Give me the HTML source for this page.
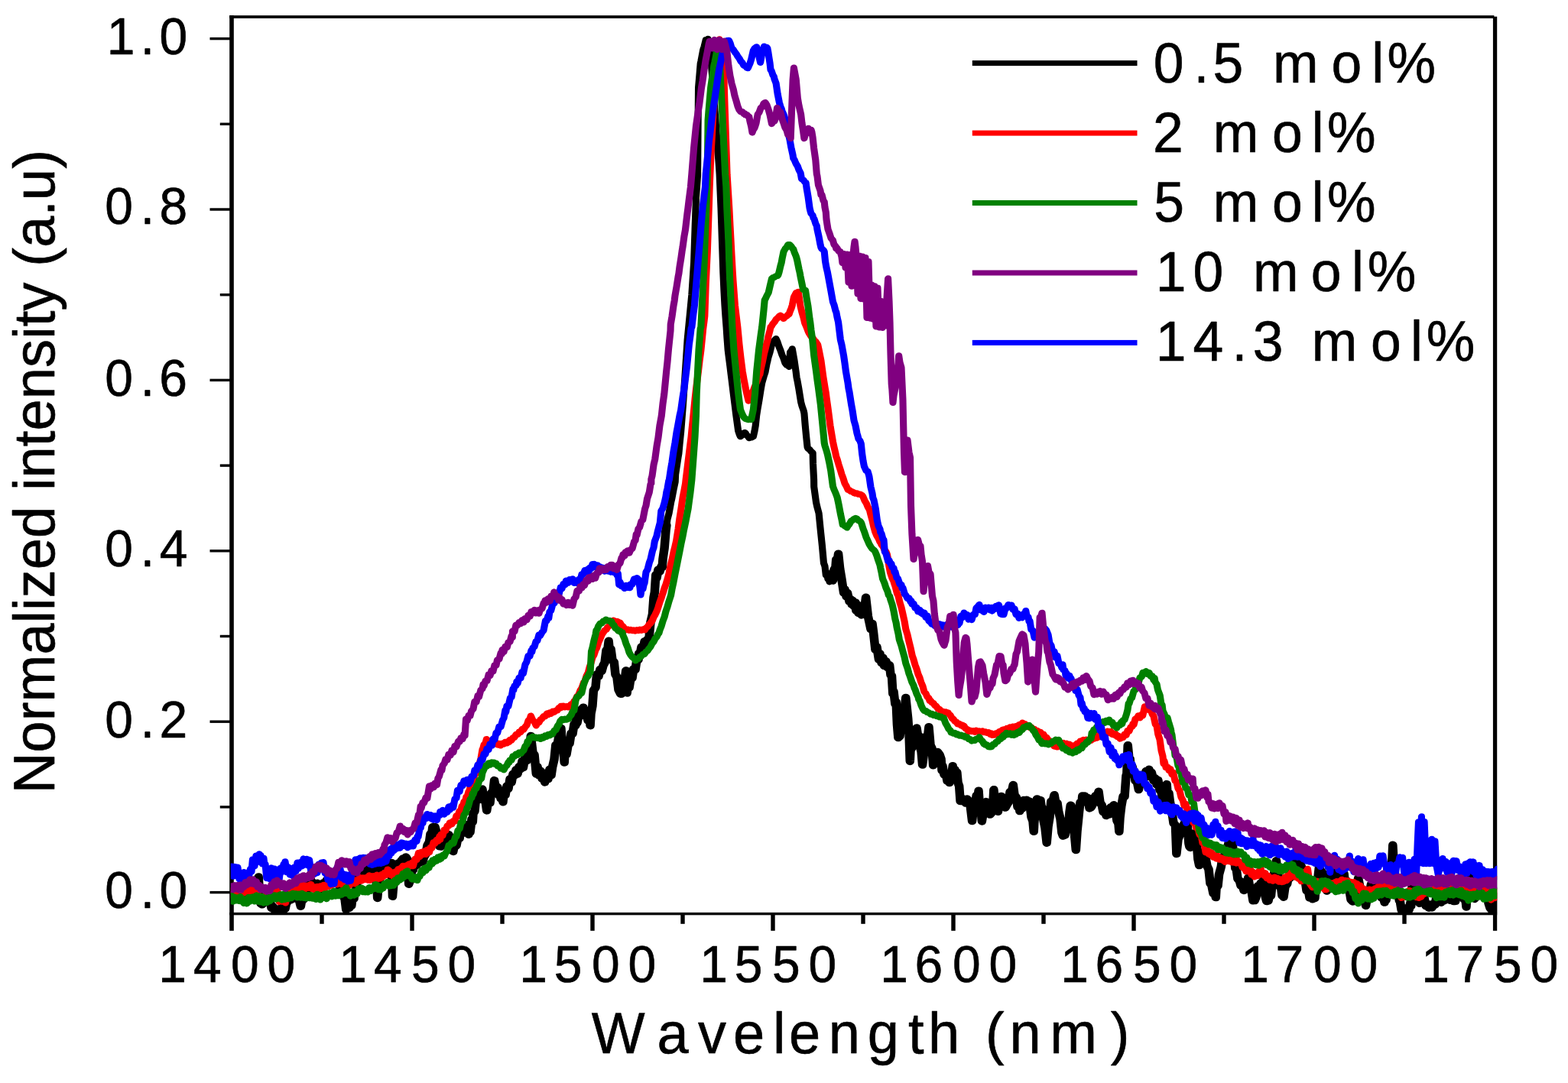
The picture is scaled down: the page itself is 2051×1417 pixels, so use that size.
<!DOCTYPE html>
<html lang="en">
<head>
<meta charset="utf-8">
<title>Normalized intensity vs wavelength</title>
<style>
html,body{margin:0;padding:0;background:#fff;}
body{width:2051px;height:1417px;overflow:hidden;}
svg{display:block;}
text{font-family:"Liberation Sans",Arial,Helvetica,sans-serif;fill:#000;stroke:#000;stroke-width:0.6px;stroke-linejoin:round;white-space:pre;}
.tk{font-size:66px;}
.lg{font-size:71.5px;}
.xt{font-size:74px;}
.yt{font-size:74.3px;}
.c{fill:none;stroke-linejoin:round;stroke-linecap:round;}
</style>
</head>
<body>
<svg width="2051" height="1417" viewBox="0 0 2051 1417">
<rect x="0" y="0" width="2051" height="1417" fill="#fff"/>
<defs><clipPath id="plot"><rect x="301.8" y="24" width="1656.4" height="1173.3"/></clipPath></defs>
<g id="axes">
<rect x="300.2" y="20.2" width="5.6" height="1197.6" fill="#000"/>
<rect x="1952.9" y="21.7" width="5.3" height="1196.1" fill="#000"/>
<rect x="300.2" y="20.2" width="1654.2" height="3.8" fill="#000"/>
<rect x="300.2" y="1193.9" width="1658" height="3.4" fill="#000"/>
<rect x="274.5" y="1165.9" width="26.7" height="3.4" fill="#000"/>
<rect x="287.8" y="1054.2" width="13.4" height="3.4" fill="#000"/>
<rect x="274.5" y="942.5" width="26.7" height="3.4" fill="#000"/>
<rect x="287.8" y="830.8" width="13.4" height="3.4" fill="#000"/>
<rect x="274.5" y="719.1" width="26.7" height="3.4" fill="#000"/>
<rect x="287.8" y="607.4" width="13.4" height="3.4" fill="#000"/>
<rect x="274.5" y="495.7" width="26.7" height="3.4" fill="#000"/>
<rect x="287.8" y="384" width="13.4" height="3.4" fill="#000"/>
<rect x="274.5" y="272.3" width="26.7" height="3.4" fill="#000"/>
<rect x="287.8" y="160.6" width="13.4" height="3.4" fill="#000"/>
<rect x="274.5" y="48.9" width="26.7" height="3.4" fill="#000"/>
<rect x="418.3" y="1196.3" width="5.4" height="12.5" fill="#000"/>
<rect x="536.3" y="1196.3" width="5.4" height="21.5" fill="#000"/>
<rect x="654.3" y="1196.3" width="5.4" height="12.5" fill="#000"/>
<rect x="772.3" y="1196.3" width="5.4" height="21.5" fill="#000"/>
<rect x="890.3" y="1196.3" width="5.4" height="12.5" fill="#000"/>
<rect x="1008.3" y="1196.3" width="5.4" height="21.5" fill="#000"/>
<rect x="1126.3" y="1196.3" width="5.4" height="12.5" fill="#000"/>
<rect x="1244.3" y="1196.3" width="5.4" height="21.5" fill="#000"/>
<rect x="1362.3" y="1196.3" width="5.4" height="12.5" fill="#000"/>
<rect x="1480.3" y="1196.3" width="5.4" height="21.5" fill="#000"/>
<rect x="1598.3" y="1196.3" width="5.4" height="12.5" fill="#000"/>
<rect x="1716.3" y="1196.3" width="5.4" height="21.5" fill="#000"/>
<rect x="1834.3" y="1196.3" width="5.4" height="12.5" fill="#000"/>
</g>
<g id="curves" clip-path="url(#plot)">
<g transform="scale(1.1,1)">
<polyline class="c" stroke="#000000" stroke-width="10.5" points="271.8,1167.4 273.6,1172.2 275.3,1166.3 277.3,1172.5 279.1,1168.3 280.9,1173.8 282.7,1170.1 284.5,1174.6 285.6,1169.8 286.4,1175.4 288.2,1170.5 290,1173.5 291.8,1169.7 293.6,1173.9 295.5,1167.5 297.3,1171.3 298.4,1166.1 299.1,1171.7 300.9,1161.4 302.7,1162.9 304.5,1154.6 306.4,1153.5 307.4,1147.4 308.2,1161.2 310,1182.1 311.8,1183.3 313.6,1177.8 315.5,1179.2 317.7,1171.6 319.1,1180.2 320.9,1178.4 322.7,1187.8 324.1,1185.6 326.4,1190.5 328.2,1189.2 330.6,1190.5 331.8,1189.3 333.6,1190.5 335.5,1187.7 337.3,1190.5 338.3,1187.4 339.1,1189 340.9,1179.7 342.1,1179.6 344.5,1173 346.4,1177 348.2,1169.8 350,1173.9 352.4,1166 353.6,1176.4 355.5,1176.7 357.6,1185.7 359.1,1176 360.9,1177.1 362.7,1165.9 364.5,1166.4 366.4,1157.1 367.8,1157 370,1152 371.8,1158.3 373.6,1155.7 375.6,1160.6 377.3,1155.8 379.4,1164.5 380.9,1158.3 382.7,1160.4 384.6,1155.3 386.4,1157.7 388.2,1152 390,1156.5 391.8,1151.1 393.6,1155.7 394.8,1150.8 397.3,1154.9 399.1,1149.1 401.3,1152.9 402.7,1152.7 404.5,1162.5 406.4,1163.6 407.7,1171.8 410,1175.9 411.6,1190.1 413.6,1183.1 415.5,1187.8 417.3,1180.9 418,1184.8 419.1,1175.1 420.9,1175.8 421.8,1168 422.7,1169.5 424.5,1155 427,1147.7 428.2,1140.3 430,1143.3 431.8,1136 433.4,1137.4 435.5,1135.4 437.3,1141.3 439.1,1137.4 439.8,1143 440.9,1137.8 442.7,1143.3 444.5,1137 446.3,1144.1 448.2,1160.6 448.8,1174.9 450,1160.1 451.8,1149.9 452.7,1137.5 453.6,1144.9 455.5,1138.6 457.3,1142.4 459.1,1136.5 460.9,1142 462.7,1134 464.5,1138.1 465.5,1129 466.8,1172.8 468.2,1154.6 470,1142.3 470.7,1132.7 471.8,1137.4 473.6,1129.5 475.5,1133.4 477.3,1126.1 478.4,1131 479.1,1123.5 480.9,1127.3 482.7,1121.5 484.8,1125.1 486.1,1156.7 488.2,1150.8 490,1137.1 491.2,1138.2 493.6,1128.5 495.5,1132 497.7,1123.2 499.1,1128.7 500.9,1124.3 502.7,1127.3 504.1,1121.6 506.4,1117.2 508.2,1106.2 510.5,1101.6 511.8,1091.1 513.6,1089.5 514.4,1082.3 515.5,1089.5 517.3,1082.1 519.5,1091.1 520.9,1091.2 522.7,1107.3 523.4,1105.5 524.5,1107.6 526.4,1101.9 528.2,1105.3 529.8,1095.4 531.8,1100.6 533.6,1092.1 534.9,1095.3 537.3,1099.7 538.9,1114 540.9,1103.4 542.7,1106.4 544.5,1096.1 546.4,1097.1 548.2,1086.2 550,1090.2 551.8,1078.1 553.1,1082.9 555.5,1079.7 557.3,1091.7 558.2,1086.4 559.1,1088.7 560.9,1071.8 562.1,1075.1 562.7,1064.1 564.5,1061.3 565.9,1045.1 568.2,1046.6 570,1034.1 572.4,1034.1 573.6,1032.6 575.5,1047.1 577.3,1048.6 578.8,1060.4 580.9,1045.6 582.7,1050.4 583.9,1038.2 586.4,1034.8 587.8,1021.1 590,1033.5 591.8,1029.9 592.9,1040.1 593.6,1034.6 595.5,1044.7 597.3,1041.7 598.1,1049.2 599.1,1039 600.9,1040.4 602.7,1028.6 604.5,1032 606.4,1019.3 608.3,1023.6 610,1012.7 611.9,1014.4 613.6,1007.2 615.5,1012.5 617.3,1003 619.1,1006.2 620.9,995.9 622.2,1004.2 624.5,990.4 626.4,995.2 628.2,982.1 629.9,985.9 631.2,962.9 633.6,985 635.5,987.6 637.6,1012.4 639.1,1003.1 640.9,1014.4 642.7,1008.7 644.5,1018.6 646.4,1015 647.9,1023.4 650,1011.3 651.8,1019.2 653.6,1006.7 655.5,1014.4 656.9,1003.7 659.1,993.4 660.8,974.8 662.7,975 664.5,963.3 666.4,963.5 667.2,953 668.2,970 670,979.9 671.1,997.5 671.8,984.5 673.6,987.1 675.5,975 677.3,972.8 679.1,959.5 680.9,960.1 682.7,947.4 684.5,949.2 685.2,940.2 686.4,945.6 688.2,935.7 690,936.6 691.8,927.6 692.9,930.9 693.6,925.7 695.5,936.4 697.3,934.9 699.1,942.6 700.9,940.2 701.9,949.2 702.7,933.9 704.5,923.7 705.8,903.4 708.2,899.3 709.6,882.6 711.8,884.9 713.6,875.9 715.5,878.1 717.3,870.7 719.1,867.1 720.9,851.1 722.7,848.5 723.8,838.8 724.5,847.5 726.4,849 728.2,864.1 730.2,866.1 731.8,882.5 733.6,885.8 735.5,902.6 737.9,907.7 739.1,907.8 740.9,892.4 742.7,891.3 744.3,877.5 745.6,906.4 746.4,897.8 748.2,899.7 750,887.2 751.8,887.3 753.3,875.4 755.5,876.2 757.3,862.3 759.1,863.2 759.7,855 760.9,857.1 762.7,846.6 764.9,847.9 766.4,839.3 768.2,843.9 770,836.5 771.3,840.9 773.6,814.1 775.9,803.7 777.3,781.9 778.5,774.9 779.8,752.2 780.9,756.1 782.7,745.5 784.5,747.7 786.4,741.1 787.5,742.1 788.2,731.4 790.1,716.9 791.8,694 792.6,687.3"/>
<polyline class="c" stroke="#000000" stroke-width="8.3" points="790.1,716.9 791.8,694 792.6,687.3 793.6,679.5 795.5,671.5 797.8,657.5 799.1,651.3 800.9,640.7 802.9,630.4 803.3,620.7 804.5,612 806.4,598.1 807.2,593 808.2,580.8 809.7,564.7 812.3,528.5 813.6,507.2 814.9,486.1 817.4,444.3 819.1,425 820.9,404.9 822.6,385.3 825.1,343.5 826.4,300.3 827.7,258.6 829.6,229.6 830,171.8 830.5,114.6 831.8,98.1 832.9,83.3 833.6,79.8 836.1,65.1 837.3,61.1 839.3,52.1 840.9,52.1 841.9,50.8 842.7,57.2 845.1,72.1 846.4,91.7 847,100.3 848.2,118.2 848.9,128.5 850,145 850.9,156.9 851.8,171.8 852.8,185.2 853.6,198.3 854.7,213.4 855.6,228.1 857.3,272.1 858.6,315.1 859.9,356.8 860.9,380.9 861.8,399.4 862.7,413.8 863.7,427.7 864.5,441.4 865.6,457.8 866.4,465.1 868.2,480.3 868.9,486.8 870,496.4 872.1,515.2 873.6,528.2 875.3,543.3 877.9,563.9 879.1,567.9 880.4,571.2 882.7,569.1 884.5,566.5 885.6,566 886.4,566.5 888.2,569.7 890,571.6 890.7,573.2 891.8,572.3 893.6,572.3 895.8,571.1 897.3,563.8 898.4,556.9 899.7,543.4 900.9,534.9 902.7,523.5 904.5,510.8 906.1,500.9 908.2,492.9 910,486.9 911.8,476.1 912.6,472.8 913.6,467.5 915.5,460.8 917.7,450.8 919.1,449.2 920.9,445.5 922.8,443.2 924.5,447.4 926.4,453.7 928,458 930,464.5 931.8,469 933.6,475 934.4,476.2 935.5,477.6 937.3,478.5 938.3,479.9 939.6,460.8 940.9,459.1 942.1,456.4 944.7,472.7 946.4,485.8 947.3,493.8 948.2,498.4 949.8,508.2 952.4,526 953.6,530.9 955.5,536.9 956.3,540.8 957.5,556.8 958.8,571.6 960.1,585.2 960.9,586.8 962.7,588.1 964.5,590.8 966.5,592.4 966.8,606.9 967.8,627.7 967.9,636.7 970.5,657.4 971.8,663.8 973.7,671.4 975.7,693.7 977.6,713.5 979.5,736.6 980.9,740.9 982.1,752.5 982.7,748.5 984.5,757.6 985.3,756.7 986.4,761.3 988.2,753.8 990.4,759.5"/>
<polyline class="c" stroke="#000000" stroke-width="10.5" points="988.2,753.8 990.4,759.5 991.8,745.5 993.6,742.2 994.3,732.1 995.5,735.5 996.9,724.7 998.8,744.4 1000.7,756.9 1003.3,775.5 1004.5,771.1 1006.4,780.5 1007.7,775.7 1010,786.9 1011.8,784.3 1012.9,790.8 1013.6,785.8 1015.5,793.2 1017.3,788.5 1018,798.7 1019.1,791.1 1020.9,802.1 1022.7,795.4 1024.4,804.4 1026.4,792 1028.2,794.5 1029.6,781.8 1032.1,805.9 1033.4,812.6 1035.5,823.2 1037.3,816.2 1038.6,827 1039.8,838.9 1040.9,849.9 1042.7,846.5 1045,862.8 1046.4,855.5 1048.2,867.3 1050,860.9 1051.4,871 1053.6,865.1 1055.5,873.4 1057.8,870.2 1059.1,883.1 1060.4,884.1 1061.7,907.7 1062.7,904.7 1064.5,921.2 1065.6,918.6 1066.8,948 1068.1,965.1 1070,963.1 1072,945.3 1073.6,940.1 1074.6,924.5 1075.5,928.4 1077.1,912.9 1079.7,939.9 1080.9,959.1 1082.1,995.9 1082.7,981.6 1084.5,978.3 1086.5,959.7 1088.7,955.9 1090,952.5 1091.8,965.4 1092.7,962.8 1093.6,975 1095.5,983.2 1096.9,1000.6 1099.1,981.8 1100.9,979.2 1102,962.8 1102.7,968.1 1104.5,951.2 1106.4,975.2 1108.2,979 1109.7,1001.3 1111.8,988.1 1113.6,992.7 1114.9,983.9 1117.4,987.7 1119.1,993.1 1120,1008 1120.9,1002.3 1122.7,1013.5 1125.1,1014.2 1126.4,1021.8 1128.2,1017.3 1129,1024.1 1130,1013.3 1131.8,1012.6 1132.9,1002.2 1133.6,1009.7 1135.5,1007.1 1137.3,1014.7 1138,1010.6 1139.1,1023.8 1140.6,1028.6 1141.9,1048.1 1142.7,1043.2 1144.5,1048.1 1146.4,1045.8 1148.3,1050.6 1150,1045.4 1152.1,1048.2 1153.6,1052.2 1156,1074.1 1157.3,1060.6 1159.1,1056.5 1161.1,1040.8 1162.7,1043.5 1163.7,1034.7 1164.5,1047.8 1166.4,1058.1 1167.6,1074.4 1170,1058.3 1171.8,1057.4 1172.7,1049.1 1173.6,1058.1 1175.5,1055.2 1177.3,1065.6 1179.1,1063.4 1180.9,1049.7 1181.7,1033.3 1182.7,1042.6 1184.5,1045.7 1186.8,1061.7 1188.2,1052.1 1190,1049 1190.7,1041.9 1191.8,1048.6 1193.6,1047.3 1195.5,1056.5 1197.1,1053.4 1199.1,1049.7 1201,1036.1 1202.7,1038 1204.8,1027.1 1206.4,1040.3 1208.7,1043.5 1210,1055.6 1211.8,1053.3 1212.6,1061.1 1213.6,1055.3 1215.5,1057.8 1217.3,1047 1219,1050.9 1220.9,1046.8 1222.7,1053 1224.1,1048.5 1226.4,1069.1 1228.2,1074.4 1229.3,1087.7 1230,1073.8 1231.8,1062.1 1233.1,1045.5 1235.5,1053.8 1237.3,1047 1238.3,1055.9 1239.1,1056.5 1240.9,1073.4 1242.7,1083 1244.7,1102.7 1246.4,1081.1 1248.2,1069.2 1249.8,1048.9 1251.8,1048.5 1253.7,1040.2 1255.5,1051.3 1257.3,1050.7 1258.8,1062.3 1260.9,1071.2 1262.7,1089.7 1264,1093.6 1266.4,1092.5 1268.2,1081.9 1270.4,1084.1 1271.8,1062.8 1273,1053.8 1273.6,1054 1275.5,1077.7 1277.3,1086.9 1279.4,1112 1280.9,1087.2 1283.3,1061.3 1284.5,1050.3 1286.4,1050.2 1287.1,1041.4 1288.2,1049 1290,1041.5 1292.3,1046.6 1293.6,1043.9 1295.5,1057.4 1297.4,1056.2 1299.1,1053.2 1300,1044.2 1300.9,1049.2 1302.7,1041.2 1304.5,1042.9 1306.4,1035.8 1308.2,1050.3 1310.3,1053.8 1311.8,1062.2 1313.6,1058.7 1315.5,1067.1 1316.7,1065.1 1319.1,1065.5 1320.9,1056.2 1323.1,1055.6 1324.5,1053.3 1325.7,1063.8 1326.4,1060.8 1328.2,1073.7 1330,1077.6 1330.8,1087.9 1331.8,1069.9 1333.4,1055 1335.5,1042 1337.3,1042.2 1339.1,1014.8 1339.8,1015 1341.1,975.3 1342.7,993 1343.7,992.6 1344.5,1001.8 1346.4,1002.8 1348.2,1014.1 1348.8,1009.2 1350,1021.5 1351.8,1021 1354,1033.1 1355.5,1024.6 1357.3,1025.9 1359.1,1016.4 1360.9,1018 1362.7,1009.1 1364.3,1011.1 1366.4,1006.8 1368.2,1016.4 1369.4,1010.9 1371.8,1021.2 1373.6,1018.3 1375.5,1026.5 1377.1,1020.7 1379.1,1033.7 1380.9,1035.7 1382.3,1044.9 1384.5,1033.6 1386.4,1036 1387.4,1026.1 1388.2,1037.4 1390,1038 1391.3,1049.2 1393.8,1064.1 1395.5,1077.1 1397.7,1079.6 1399,1117.1 1400.9,1098.1 1402.8,1092.7 1404.5,1082.2 1406.7,1082 1408.2,1077.4 1410,1084.1 1411.8,1077.9 1413.6,1103.6 1414.4,1107.5 1415.5,1108.9 1417.3,1093.9 1418.3,1096.5 1419.1,1090.6 1420.9,1097.2 1422.1,1091.1 1424.5,1124 1426,1132.1 1428.2,1130 1430.3,1115.3 1431.8,1126 1433.6,1122.1 1435.4,1133.1 1437.3,1137.4 1439.1,1155.9 1440.6,1157.3 1442.7,1168.9 1444.5,1163.9 1445.7,1174.1 1446.4,1161.7 1448.2,1158.9 1449.6,1144.1 1452.1,1133.9 1453.6,1122.1 1455.5,1123.6 1457.3,1112.8 1458.6,1113.9 1460.9,1103.5 1462.7,1108.1 1465,1096.5 1466.4,1113.3 1468.2,1125 1468.9,1135.9 1470,1135.4 1471.8,1149.8 1474,1152.6 1475.5,1158.8 1477.3,1156.9 1479.1,1164.9 1480.9,1153.7 1482.7,1155.6 1484.3,1148.3 1486.4,1162.9 1488.1,1165.2 1490,1178.2 1492,1178.1 1493.6,1173.8 1495.8,1159.3 1497.3,1162 1499.1,1155.6 1500.9,1159.5 1502.3,1151 1504.5,1172.4 1506.1,1179.1 1508.2,1178.5 1510,1169.5 1511.3,1172.3 1513.6,1148.6 1515.1,1143.4 1517.7,1126.3 1519.1,1142.5 1520.9,1149.1 1521.6,1159.9 1522.7,1156.6 1524.5,1171.5 1525.4,1169.5 1526.4,1173.7 1528.2,1159.8 1530.6,1156.5 1531.8,1148.7 1533.6,1149.1 1535.5,1135.1 1537.3,1136.1 1538.3,1127.2 1539.1,1133.1 1540.9,1126.9 1542.7,1133.1 1544.5,1124.5 1546,1129.7 1548.2,1135.6 1550,1148.1 1551.8,1150.5 1553.7,1165.3 1555.5,1162.6 1557.3,1174.6 1558.8,1173.5 1560.9,1176.3 1562.7,1170.7 1563.6,1175 1564.5,1162.1 1566.4,1156.3 1568.8,1132.5 1570,1143.1 1571.8,1140.3 1572.6,1147.6 1573.6,1146.8 1575.5,1160.7 1577.8,1165.5 1579.1,1162.3 1580.9,1142.3 1581.6,1145.6 1582.7,1140.2 1584.5,1145 1586.4,1139.7 1588.2,1145.9 1589.3,1141.4 1590,1147.6 1591.8,1140.8 1593.6,1149.1 1595.5,1142.3 1597.3,1149.4 1598.3,1143.4 1599.1,1152.6 1600.9,1151.8 1602.7,1164.2 1604.5,1164.6 1606.4,1177 1608.6,1179.4 1610,1179.1 1611.8,1165.1 1613.6,1162.4 1615.1,1149 1617.3,1161.3 1619.1,1163 1620.9,1173.3 1622.7,1173.9 1624.1,1184.9 1626.4,1170.4 1628.2,1170.2 1630.5,1156.7 1631.8,1161.9 1633.6,1157 1635.5,1165.2 1636.9,1157.4 1639.1,1168.8 1640.9,1166.9 1642.7,1174.5 1644.5,1171.4 1646.4,1180.6 1647.2,1176.6 1648.2,1177.7 1650,1163.9 1651.8,1160.8 1653.6,1143.3 1655.5,1122.1 1656.2,1105.7 1657.3,1127.6 1658.8,1144.6 1660.9,1162.2 1662.7,1166.6 1663.9,1178.1 1664.5,1177.1 1666.5,1190.5 1668.2,1190.5 1670,1190.5 1671.8,1190 1672.9,1190.5 1673.6,1187.9 1675.5,1190.5 1677.3,1180.6 1678,1185.1 1679.3,1156 1680.9,1166.7 1682.7,1168.5 1684.5,1177.9 1685.7,1176.2 1688.2,1181.8 1690,1174.9 1692.2,1178.3 1693.6,1174.3 1695.5,1185.2 1697.3,1183.6 1699.1,1187.7 1700.9,1183.4 1702.7,1187.4 1705,1182.7 1706.4,1183.8 1708.2,1173.1 1708.9,1178.4 1710,1172.9 1711.8,1180.1 1712.7,1173.1 1713.6,1180.7 1715.5,1173.6 1717.3,1178.4 1719.1,1172.6 1720.9,1176.6 1722.7,1171.8 1724.3,1177.7 1726.4,1170.1 1728.2,1178.9 1730,1171.9 1730.7,1178.9 1731.8,1171.5 1733.6,1171.7 1735.5,1162.6 1737.2,1164.9 1739.1,1165.9 1740.9,1176.4 1742.7,1176.7 1743.6,1186.5 1744.5,1169.9 1746.4,1160.6 1747.4,1145.2 1748.2,1155.1 1750,1157.1 1751.8,1174.5 1752.6,1172.9 1753.6,1175.9 1755.5,1166.2 1757.3,1167.2 1759.1,1154.4 1760.9,1157.3 1762.7,1145.8 1764.2,1149.9 1766.4,1156.4 1768.2,1173.4 1769.3,1172.1 1770,1181.5 1771.9,1187.9 1773.6,1190.5 1775.5,1186.4 1777,1190.5 1779.6,1173 1780.9,1179.8 1782.7,1172.9"/>
<polyline class="c" stroke="#ff0000" stroke-width="8.3" points="271.8,1165.6 273.6,1171.4 275.3,1165.1 277.3,1169.8 279.1,1166.3 280.9,1169.8 282.7,1165.1 284.5,1170.5 285.6,1163.7 286.4,1169.5 288.2,1163.3 290,1168.6 291.8,1163.2 293.6,1166.9 295.5,1162.1 297.3,1167 299.7,1161.1 300.9,1167 302.7,1163.5 304.9,1169.9 306.4,1168 308.2,1176.5 310,1174.7 311.8,1177.5 313.6,1172.7 315.5,1175.8 317.7,1167.1 319.1,1170.7 320.9,1164.7 322.7,1171.5 324.5,1165.6 326.4,1168.9 328.2,1164.2 329.3,1167.5 330,1166.1 331.9,1179.9 333.6,1175.2 335.5,1179.6 337.3,1176.4 339.6,1181.4 340.9,1172.9 342.7,1173.5 344.7,1164.1 346.4,1168.5 348.2,1162.9 350,1165.6 351.8,1160.4 353.6,1166.1 355.5,1158 356.3,1164 357.3,1159 359.1,1163 360.9,1157.8 362.7,1163.3 364.5,1158.7 366.4,1161.9 368.2,1157.8 369.1,1162.2 370,1157 371.8,1163.4 373.6,1160.4 375.6,1165.8 377.3,1159.9 379.1,1164.1 380.9,1159.4 382.7,1162.9 384.5,1158 385.8,1162.8 388.2,1157.2 390,1160.3 391.8,1155.3 393.6,1158.9 394.8,1154.2 397.3,1157 399.1,1152.9 400.9,1157.2 402.7,1153 403.8,1156.4 404.5,1152.8 406.4,1157.3 408.2,1154.2 409,1160.3 410,1154.4 411.8,1159.6 413.6,1154.2 415.5,1158.6 417.3,1152.9 419.1,1156.1 420.5,1151.3 422.7,1156.3 424.5,1151.2 427,1153 428.2,1148.2 430,1152.5 431.8,1148.5 433.6,1151 435.5,1148.2 437.3,1151.5 439.1,1145.4 439.8,1151.8 440.9,1146.1 442.7,1149.3 444.5,1146.1 446.4,1150.6 448.2,1144.6 450,1149.8 451.8,1145.5 452.7,1149.3 453.6,1144.2 455.5,1147.3 457.3,1141.8 459.1,1145.1 460.9,1137.6 461.7,1141.4 462.7,1138.9 464.5,1144.8 466.4,1141.4 468.1,1147.3 470,1140.5 471.8,1143.7 473.6,1137.1 475.5,1139.7 477.3,1135 478.4,1137.4 479.1,1132.9 480.9,1137.1 482.7,1132.5 484.8,1135.8 486.4,1130.3 488.2,1133 490,1128.7 491.2,1133.1 493.6,1123.7 495.5,1125 497.7,1115.9 499.1,1121.1 500.9,1114.8 502.7,1118.4 504.1,1113.7 506.4,1117.8 508.2,1111.6 510.5,1115.3 511.8,1109.1 513.6,1109.4 515.5,1102.1 517,1103.8 519.1,1098.9 520.9,1100.6 522.7,1094.2 523.4,1098.5 524.5,1091.6 526.4,1093.4 528.2,1085.9 529.8,1087.1 531.8,1080.6 533.6,1080.6 534.9,1076.3 537.3,1078.3 538.9,1074.1 540.9,1074.4 542.7,1067.4 544.1,1068.2 546.4,1061.1 548.2,1060.1 549.2,1054.8 550,1055.9 551.8,1049 553.6,1046.9 554.4,1042.7 555.5,1042.6 557.3,1035.5 558.2,1034.7 559.1,1030 560.9,1026.6 562.1,1019.6 562.7,1021.1 564.5,1013.3 566.4,1011.7 567.2,1007.8 568.2,1007 570,999.6 571.8,992.4 573.6,980.9 574.6,978 575.5,974.4 577.3,972.2 578.5,967.1 580.9,970 582.7,969.2 584.5,971.6 586.2,970.7 588.2,972.9 590,971.9 591.8,974.5 593.6,972.8 595.2,975.4 597.3,972.7 599.1,973.5 600.9,970.8 602.7,972.4 604.5,969.7 605.5,970.9 606.4,967.9 608.2,968.6 610,965 611.8,964.8 613.6,961 615.8,960.9 617.3,957.6 619.1,958 620.9,954 622.7,954.5 624.8,950.6 626.4,948.9 628.2,943 630,940.8 631.2,936.6 633.6,942.5 635.5,944.3 637.6,949.3 639.1,946.2 640.9,945.3 642.7,941.4 644.1,940.7 646.4,937.2 648.2,937.3 650.5,933.5 651.8,935 653.6,932.6 655.5,933.6 657.3,930.8 659.1,931.7 660.8,929.9 662.7,929.5 664.5,926.1 666.4,926.3 667.2,923.8 668.2,925.4 670,923.9 671.8,925.3 673.6,924.1 675.5,925.4 676.2,924.1 677.3,924.5 679.1,921.4 681.3,921 682.7,917.5 684.5,915.4 686.4,910.6 687.8,909.9 690,903.4 691.8,900.2 694.2,892.7 695.5,891 697.3,884.6 699.3,880.3 700.9,873.3 702.7,867.8 704.5,860.3 706.4,856.7 708.2,850.5 709.6,847.8 711.8,840.2 713.5,836.1 715.5,830.7 716.8,828.4 719.1,824.8 720.9,823.7 722.7,820.3 724.5,819 726.4,816 728.2,814.6 729.6,811.7 731.8,813.5 733.6,812.9 736.1,814.4 737.3,814.8 739.1,818.2 740.9,819.5 742.7,822.9 743.8,823.1 744.5,824.3 746.4,823.5 748.2,824.7 750,823.9 751.8,825.1 753.6,824.5 755.3,825.6 757.3,824.3 759.1,825 760.9,823.8 762.7,824.7 764.5,823.4 766.9,824.2 768.2,821.5 770,820.2 771.8,817 773.6,815.5 774.6,813.4 775.5,812.5 777.3,807.5 779.1,804.2 781.1,799.4 782.7,794.4 784.5,787.9 786.4,782.4 787.5,778.3 788.2,776.4 790,769.9 791.8,764.6 793.9,756.9 795.5,750.1 797.3,740.1 799.1,732.2 800.9,722.7 802.7,714.8 804.2,707.5 806.4,692.3 808,679.2 810,665.4 811.9,650.8 813.6,641.6 815.1,632.5 815.5,628.2 817.3,612.2 818.7,599.8 820.9,580.1 821.9,571.8 822.7,562.3 824.5,543.5 826.4,522.3 827.1,515.1 828.2,504.9 830.3,486.9 831.8,472.8 833.5,458.6 836.1,429.9 837.3,420.1 838,413.5 839.3,371.7 841.2,328.6 842.5,286.9 843.8,243.9 844.4,228.2 845.5,199.3 846.4,183.5 847,171.1 848.3,143.3 850.2,114.5 852.1,86.8 854.1,65.1 855.4,51.4 857.3,65.1 859.2,86.9 860.8,100.5 862,143.4 863.3,185.1 864.6,228.3 865.5,243.9 866.4,260 867.1,272.3 868.2,296 869.1,314.5 870,333.4 871.2,357 871.8,367.3 874,399.4 875.5,413.3 877.1,427.7 879.1,450.8 879.8,457.9 880.9,468.4 883,486.3 884.5,495.9 886.8,509 888.2,515.9 890.1,524.5 891.8,521.1 893.3,517.4 895.5,511.9 897.3,506.3 898.4,503.7 899.1,501.4 900.9,497 902.7,491.4 903.6,489.7 904.5,483.9 906.4,474.9 908.7,462.2 910,457 911.8,448.6 912.6,445.9 913.6,440.2 915.5,432.6 916.4,427.8 917.3,426.9 919.1,423.6 920.9,421.4 922.8,417.9 924.5,416.4 926.4,413.9 928,412.7 930,414.3 931.8,416.9 933.6,414.7 935.5,413.7 937.3,411.5 938.3,411.2 939.1,408.3 940.9,403.5 942.1,399.3 944,388.7 946.6,383.2 948.2,382.9 949.3,381.8 950,387.5 951.9,400.9 953.6,408.7 955.5,415.6 957,422.7 959.1,427.9 960.9,433.3 962.2,436.2 964.5,440.2 966.4,442.1 968.2,445.2 970,447 972.4,450.9 973.6,456.9 975.5,467.5 976.3,471.7 977.3,480.1 978.9,492.9 980.9,506.7 982.1,514.2 982.7,519.8 984.7,535.3 986.4,549.8 987.2,556.6 988.2,563.4 990.4,577.7 991.8,585 993.6,593.4 994.3,597.3 995.5,600.9 997.3,607.8 999.4,615 1000.9,620.6 1002.7,625.8 1004.6,632.6 1006.4,636 1008.4,641 1010,641.2 1011.8,643 1013.6,643.3 1015.5,645.1 1016.2,644.8 1017.3,645.7 1019.1,645.5 1020.9,646.7 1022.7,646.7 1025.1,648.1 1026.4,650.1 1028.2,655 1030.3,658.8 1031.8,662.9 1034.1,667.5 1035.5,673.8 1037.3,681.1 1039.1,689.8 1040.6,695.7 1042.7,701.2 1044.5,704.3 1046.4,709.1 1047,709.5 1048.2,712.8 1050,715.1 1051.8,719.4 1053.6,721.7 1054.7,724.6 1055.5,728.5 1057.3,741.3 1058.6,749.1 1060.9,756.6 1062.7,760.6 1063.7,764.5 1064.5,766.8 1066.9,777 1068.1,779.4 1070,788.3 1071.8,794.7 1073.3,801.8 1075.5,812.7 1077.1,823.1 1079.1,830.5 1081,839.8 1082.7,847.3 1084.8,858.1 1086.4,862.9 1088.2,870 1090,875.4 1091.8,882.1 1093.6,886.6 1095.1,892.1 1097.3,898 1099,905 1100.9,907.4 1102.7,911.8 1104.5,913.4 1105.4,916.6 1106.4,916.4 1108.2,919.3 1110,920.1 1111.8,923.3 1113.1,923.6 1115.5,927.5 1117.3,928 1119.5,932.1 1120.9,930.8 1122.7,932.4 1124.5,931.4 1126.4,933.1 1127.3,932.3 1128.2,934.3 1130,935.7 1132.4,940.3 1133.6,940.7 1135.5,943.8 1137.3,944.5 1138.8,947.4 1140.9,947 1142.7,949.3 1144.5,948.7 1145.3,950.7 1146.4,949.9 1148.2,953.5 1150,954 1151.7,957.3 1153.6,955.8 1155.5,957.1 1157.3,956.2 1159.1,957.7 1160.9,955.9 1163.2,957.6 1164.5,956.4 1166.4,957.6 1168.2,956.4 1170,958.1 1171.8,957.4 1173.5,958.8 1175.5,958.1 1177.3,960.6 1179.1,959.5 1180,961.9 1180.9,960.1 1182.7,961.4 1184.5,959.4 1186.4,960 1188.2,957.3 1190,958.2 1191.8,955.1 1192.8,956 1193.6,954.4 1195.5,954.7 1197.3,952.9 1199.2,953 1200.9,951.5 1202.7,953 1204.5,950.6 1206.4,952.1 1208.2,950.2 1210,950.8 1211.8,948.2 1213.6,949 1215.9,945.7 1217.3,948.4 1219.1,947.3 1220.9,949.9 1222.4,949.2 1224.5,951.8 1226.4,951.5 1228.2,953.8 1230,953.9 1231.4,956 1233.6,956 1235.5,958.4 1237.3,957.9 1239.1,960.7 1240.9,960.7 1242.7,964.4 1244.5,964.8 1246.8,968.8 1248.2,969 1250,972.7 1251.8,972.5 1253.6,976.5 1255.8,977 1257.3,977.4 1259.1,974.7 1260.9,974.8 1262.7,972.3 1263.6,973.2 1264.5,972 1266.4,973.8 1268.2,972.8 1270,975.2 1271.8,973.9 1273.6,976.1 1275.5,975.7 1276.5,977.7 1277.3,975.1 1279.1,975.8 1280.9,972.6 1282.7,972.9 1284.5,969.7 1286.8,970.4 1288.2,967.9 1290,969.6 1291.8,967.9 1293.6,969.4 1295.8,967.3 1297.3,968.8 1299.1,965.9 1300.9,966.6 1302.7,964.4 1304.5,965.3 1306.1,962.2 1308.2,964.2 1310,960.3 1311.8,961.7 1313.6,959 1315.5,960.3 1317.3,956.8 1318.9,957.6 1320.9,956.9 1322.7,961 1324.5,959.6 1325.3,961.7 1326.4,959.9 1328.2,963.8 1330,962.7 1331.8,966.6 1333,965.5 1335.5,965 1337.3,960.6 1339.1,962 1340.8,956.2 1342.7,956.7 1344.5,951.4 1346.4,950.6 1347.2,947 1348.2,948.3 1350,940.7 1352.3,939.2 1353.6,936.4 1355.5,939.3 1357.3,935.1 1358.8,936.5 1361.3,924.3 1362.7,928.3 1364.5,925.2 1366.5,929.1 1368.2,928.5 1370.3,934.7 1371.8,936.9 1373.9,947.6 1375.5,949.6 1377.1,960.8 1379.1,967.5 1381,982.3 1382.7,989.4 1383.6,999.2 1384.5,995.6 1386.4,1004 1388.7,1003.9 1390,1008 1391.8,1006.2 1393.6,1013.1 1395.1,1010.6 1397.3,1021.7 1399,1022.9 1400.9,1031.6 1402.8,1034.9 1404.5,1042.9 1406.7,1047.4 1408.2,1054.3 1410,1051.9 1411.8,1060.2 1413.6,1058.6 1415.5,1067.7 1417.3,1067.5 1419.1,1076.8 1420.9,1076 1422.1,1082.7 1424.5,1083.7 1426.4,1092.2 1428.5,1093.4 1430,1103 1431.8,1103.6 1433.7,1115.4 1435.5,1112.2 1437.3,1117.5 1439.1,1114.5 1440.1,1119.4 1440.9,1115.5 1442.7,1121.5 1444.5,1118.6 1446.4,1123.5 1447.8,1119.6 1450,1124.7 1451.8,1122.2 1453.6,1125.6 1455.5,1123.3 1456.8,1127.8 1459.1,1122.1 1460.9,1127 1462.7,1123.8 1464.5,1128.3 1466.4,1124.6 1467.1,1128.7 1468.2,1125.4 1470,1129.5 1471.8,1125.8 1473.5,1129.4 1475.5,1128.2 1477.3,1134.8 1479.1,1130 1480,1137.3 1480.9,1132.5 1481.7,1140.3 1482.7,1136.1 1484.5,1140.4 1486.8,1136.6 1488.2,1144.5 1490,1140.7 1491.8,1147.3 1493.3,1144.1 1495.5,1146.2 1497.3,1139.2 1498.4,1140.6 1499.1,1135.9 1500.9,1144.3 1502.7,1142 1503.6,1145.9 1504.5,1142.2 1506.4,1149.1 1508.2,1146 1510,1151.7 1511.8,1148.3 1513.6,1152.6 1515.5,1147.7 1517.7,1151.9 1519.1,1148.9 1520.9,1153.7 1522.7,1150.3 1524.5,1154.1 1525.4,1150.4 1526.4,1153.6 1528.2,1147.3 1530,1152.2 1531.8,1144.1 1533.6,1149.1 1535.7,1141.2 1537.3,1146.5 1539.1,1142.8 1540.9,1148 1542.1,1143.6 1544.5,1150.1 1546.4,1145.6 1547.3,1153.2 1548.2,1144.9 1550,1148.1 1551.8,1140.5 1553.6,1145.8 1555,1136.8 1557.3,1155.7 1558.8,1158.3 1560.9,1161.2 1562.7,1152.4 1564,1157.2 1566.4,1152.8 1568.2,1159.2 1570,1154.7 1571.8,1161.7 1573.6,1155.9 1575.5,1164.2 1576.5,1159.1 1577.3,1164.2 1579.1,1158 1580.9,1161.8 1582.7,1155.5 1584.5,1160.7 1586.4,1154.9 1588.2,1157.5 1589.3,1153.2 1590,1158.2 1591.8,1153.2 1593.6,1157.7 1595.5,1150.8 1597.3,1156.9 1599.6,1152 1600.9,1157.3 1602.7,1152.3 1604.5,1157.8 1606.4,1153.8 1608.2,1159.3 1610,1154.2 1611.2,1160.8 1613.6,1156.2 1615.5,1163.8 1617.6,1158.6 1619.1,1167.1 1620.9,1162.4 1622.7,1168.6 1624.5,1163.8 1626.4,1170.3 1628.2,1163.6 1630.5,1170.2 1631.8,1163.9 1633.6,1168.9 1635.5,1162.1 1637.3,1166.6 1639.1,1159.6 1640.8,1164.2 1642.7,1157.6 1644.5,1162.1 1646.4,1157.3 1648.2,1163.6 1650,1156.3 1651.8,1162.7 1653.6,1156.8 1655.5,1162.5 1657.3,1159.7 1659.1,1166.5 1661.3,1162.3 1662.7,1170.2 1664.5,1167.7 1666.4,1174.8 1667.8,1171.5 1670,1174.1 1671.8,1168.3 1673.6,1172.8 1675.5,1165.1 1676.8,1168.2 1679.1,1166 1680.9,1172.6 1682.7,1168 1684.5,1174.2 1686.4,1169.1 1687,1174.9 1688.2,1168.8 1690,1173.5 1692.2,1166.5 1693.6,1169.6 1695.5,1162.3 1697.3,1167 1699.1,1161 1700.9,1165.1 1702.5,1157.9 1704.5,1165.4 1706.4,1158.4 1708.2,1165.3 1710,1159.5 1711.8,1164.4 1712.7,1159.8 1713.6,1165.4 1715.5,1159.3 1717.3,1165.3 1719.1,1161 1720.9,1165.3 1723,1159.1 1724.5,1165.4 1726.4,1159.1 1728.2,1163.8 1730,1159.9 1731.8,1163.9 1733.6,1158.7 1734.6,1163.2 1735.5,1157.7 1737.3,1164.6 1739.1,1161.4 1740.9,1165.6 1742.7,1161.3 1744.5,1167.8 1746.4,1161.6 1747.4,1167.3 1748.2,1160.9 1750,1167 1751.8,1158.7 1753.6,1163 1755.5,1155.8 1756.4,1159 1757.3,1156.3 1759.1,1163.2 1760.9,1156.5 1762.7,1164.4 1764.2,1159.7 1766.4,1168.7 1768.2,1165.2 1770,1172.8 1771.8,1170.1 1773.2,1177.5 1775.5,1170.4 1777.3,1175.1 1779.6,1166.1 1780.9,1173 1782.7,1167.9"/>
<polyline class="c" stroke="#008000" stroke-width="8.3" points="271.8,1173 273.6,1178.9 275.3,1171.8 277.3,1179.6 279.1,1173.7 280.9,1178.3 282.7,1174.4 284.5,1178.8 285.6,1173.1 286.4,1179.2 288.2,1175.4 290,1181.8 292,1178.6 293.6,1182.3 295.5,1174 297.3,1179.6 298.4,1173.8 299.1,1177.7 300.9,1173.4 302.7,1179.3 304.9,1171.5 306.4,1179.6 308.2,1172.4 310,1180.4 311.8,1173.1 313.6,1181.5 315.1,1175.9 317.3,1181 319.1,1173.4 320.9,1179.1 322.7,1171.5 324.1,1176.6 326.4,1171.4 328.2,1176.6 330,1171.6 331.8,1175.7 333.6,1170.2 335.5,1177.6 337,1169.7 339.1,1176.8 340.9,1170.1 342.7,1176.2 344.5,1170.4 346.4,1175.2 348.2,1168.8 349.9,1173 351.8,1169.3 353.6,1174.4 355.5,1169.6 357.3,1174.6 359.1,1169 360.9,1174.8 362.7,1170.7 364.5,1175.4 366.4,1170.8 368.2,1175.1 370,1171.2 371.8,1175.7 373.6,1171.9 375.5,1176.8 377.3,1169.9 378.1,1176.4 379.1,1170.5 380.9,1177.4 382.7,1171.8 384.5,1174.8 386.4,1169.3 388.4,1176.1 390,1168.7 391.8,1172.8 393.6,1167.7 394.8,1173.3 397.3,1165.7 399.1,1172.5 400.9,1166.9 402.7,1172.2 405.1,1165.9 406.4,1170.7 408.2,1164.5 410,1168.9 411.6,1161.1 413.6,1169.5 415.5,1166.4 416.7,1172.6 419.1,1166.3 420.9,1171.6 423.1,1166 424.5,1169.9 426.4,1162.5 428.3,1164.7 430,1161.6 431.8,1167.2 433.6,1163.4 434.7,1167.3 435.5,1163.6 437.3,1167.4 439.1,1161.1 440.9,1165.8 442.4,1161.2 444.5,1163.2 446.4,1157.2 447.5,1159.9 448.2,1157.6 450,1164.1 451.8,1160.3 452.7,1164.6 453.6,1159.6 455.5,1162.3 457.3,1156.1 459.1,1158 460.9,1153.8 462.7,1159.6 464.5,1155.4 465.5,1159 466.4,1153.9 468.2,1158.6 470,1151.2 471.8,1154.7 473.3,1148.4 475.5,1151.5 477.3,1146.6 478.4,1149.5 479.1,1142.9 480.9,1147.3 482.7,1140.4 483.5,1144.3 484.5,1139.3 486.4,1146.4 488.2,1143.9 490,1150.5 491.8,1147.1 493.6,1151.2 495.5,1148 496.4,1151.9 497.3,1146.8 499.1,1146.8 501.5,1138.5 502.7,1142.4 504.5,1136 506.4,1139.1 508,1134.2 510,1135.7 511.8,1128.9 513.6,1130.8 514.4,1125.4 515.5,1128.5 517.3,1123.8 519.1,1126.5 520.9,1121.3 522.7,1124.6 523.4,1120.3 524.5,1123.5 526.4,1118.7 528.2,1120.6 529.8,1116.3 531.8,1113.6 533.6,1106.2 534.9,1106.4 537,1102.8 539.1,1103.7 541.5,1095.2 542.7,1094.6 544.5,1086.7 546.6,1084.2 548.2,1076.4 550,1075 551.8,1066.2 553.6,1063.8 555.5,1057 556.9,1054.8 559.1,1045.8 560.9,1043.7 562.1,1038.2 562.7,1039.3 564.5,1033 566.4,1031.8 567.2,1027.3 568.2,1027.7 570,1020.7 572.4,1018.7 573.6,1011.1 575.9,1005.5 577.3,1001.8 579.1,1002.4 581.1,998.5 582.7,1000.6 584.5,997.5 586.4,999.1 587.5,997.6 588.2,999.8 590,998.8 591.8,1002.4 593.6,1002 595.5,1005.5 597.3,1004.6 599.1,1007.3 600.9,1003.4 602.7,1001.6 604.5,997.2 605.5,997.4 606.4,994.6 608.2,994.6 610,989.5 611.9,989.6 613.6,986.7 615.5,987.7 617.3,984.6 619.1,986.1 620.9,983.4 622.7,981.7 624.5,976.4 626.4,974.1 627.3,970.1 628.2,970.7 630,965.9 631.2,965.4 633.6,963.8 635.5,965.3 637.3,964.6 639.1,965.9 640.9,964.8 642.8,966.9 644.5,964.4 646.4,965.4 648.2,962.5 650,963.6 651.8,961 653.6,962.4 655.5,959.9 656.9,960.7 659.1,956 660.9,955 663.3,949.4 664.5,948.1 666.4,942.9 667.2,942.4 668.2,941 670,942 671.8,940.6 673.6,941.6 675.5,939.9 676.2,940.7 677.3,937.6 679.1,935.8 680.9,931 682.6,929.7 684.5,916.6 685.2,914.3 686.4,911.6 688.2,911 690,907.4 691.6,907 693.6,897.3 695.5,891.2 697.3,886.8 699.1,884.9 700.9,880.4 701.9,879.9 703.2,852.3 704.5,847.3 706.4,837.6 708.2,830.1 709.1,824.5 710,823.8 711.8,818.6 712.9,817.3 713.6,815.8 715.5,815.4 717.3,812.7 719.1,812.6 720.6,810.6 722.7,812.2 724.5,812 726.4,814 727.1,813 728.2,816.2 730,818 731.8,821.9 733.5,823 735.5,825.7 737.3,825.5 739.1,828 739.9,827.3 740.9,831.5 742.7,835.9 744.3,841.7 746.4,847.2 748.2,853.6 749.5,856.3 751.8,859.7 753.6,860.9 755.9,864.4 757.3,862.3 759.1,861.9 760.9,859.2 762.7,858.7 764.5,856.2 766.2,855.9 768.2,852.8 770,851.6 771.3,849.2 773.6,846.1 775.5,841.9 777.3,839.6 779.1,835.5 780.9,833.3 782.7,829.1 783.6,828.3 784.5,824.7 786.4,819.3 788.2,812.6 790.1,807.2 791.8,799.8 793.6,794.1 795.5,786.6 797.8,778.8 799.1,770.8 800.9,761.6 802.9,750 804.5,741.4 806.4,731 808,722.2 810,710.9 811.8,701.6 813.2,693.4 815.5,681.6 817.3,671 818.3,665.5 819.1,658.7 820.9,644.3 822.6,627.8 824.5,599.8 826.4,571.2 827.7,543.4 828.4,514.6 829.6,486.7 830.9,458.1 831.8,445.6 832.9,429.8 833.5,428.2 834.8,399.4 836.1,371.8 837.4,342.8 838.3,315.2 839.3,286.2 840.3,258.6 841.2,227.6 841.9,157.4 842.7,145.7 845.1,115.1 846.4,105.1 848.2,92.3 848.9,86.2 850,81.1 852.1,69.3 854.1,55 856,86.3 857.3,115 858.6,142.9 859.9,171.7 861.1,199.4 862.4,228.3 863.5,243.9 864.4,272.7 866.3,314.7 867.6,357.6 869.5,399.5 870.8,428.3 871.8,443.9 872.7,458.5 873.6,468.1 875.3,486.8 877.9,514.6 879.1,525.2 880.4,535.8 882.7,542.1 884.3,545.6 886.4,547.8 888.1,548.5 890,549.1 891.8,548.6 893.3,549 895.8,535.8 897.8,515 899.7,486.2 900.9,473.5 902.3,458.1 904.8,437.4 906.1,427.6 908.2,405.6 909.3,392.4 910,391.3 911.8,387 913.8,383 915.5,374.8 917.7,364.5 919.1,363.2 920.9,362.7 922.7,361.3 924.5,360.9 925.4,359.7 926.4,356.1 928.2,347.6 929.3,343.4 930,338.8 931.8,329.4 933.6,325.7 935.5,323.3 937,320.2 938.9,320.1 940.9,322.3 942.7,325.5 943.4,325.8 944.5,329.7 946.4,334.7 947.3,337.8 948.2,341.9 950,351.8 951.1,357 951.8,361.4 953.6,370.9 955,378.8 957.7,379.7 959.1,389.7 960.9,400.9 962.7,416.7 963.5,422.1 964.5,431.8 966,443.3 967.9,465.2 970.5,485.7 971.8,497 973.1,507 975.7,528.7 977.6,549.5 979.5,571.1 980.2,579.7 980.9,583.1 982.7,589.3 984,594.4 986.4,606.7 987.9,615.6 990.4,636.2 991.8,640.5 993.6,645 995.6,650.9 997.3,659.7 999.4,672.1 1000.9,679.7 1002,686.4 1002.7,686.3 1004.5,688.4 1006.4,689.4 1007.2,690.4 1008.2,688.2 1010,685.9 1012.3,681.4 1013.6,681 1015.5,678.9 1017.4,678 1019.1,678.8 1020.9,681.1 1022.7,682 1023.9,683.7 1024.5,685.1 1026.4,691.8 1027.7,695.4 1030,703 1031.6,706.9 1033.6,712 1035.4,715.3 1037.3,718.2 1039.1,719.5 1040.6,721.6 1042.7,727.3 1044.4,733.3 1046.4,739.6 1047,743 1048.2,748.9 1049.6,757.3 1051.8,763 1053.4,768.6 1055.5,773.9 1056.6,778.6 1057.8,779.7 1059.1,785.1 1060.9,790.7 1061.7,794.4 1062.7,799.3 1064.5,810.2 1065.6,814.8 1066.4,820.5 1068.2,829.2 1069.4,837 1071.8,844.8 1073.3,851.1 1075.5,859.8 1077.1,868 1079.1,874.1 1080.9,881.5 1082.3,885.5 1084.5,892.7 1086.4,896.8 1087.4,900.5 1088.2,902 1090,907.9 1091.8,911.7 1092.5,915.1 1093.6,916.7 1095.5,923.1 1097.7,928.1 1099.1,930 1100.9,929.8 1102.7,932 1104.5,932.4 1106.7,934.6 1108.2,934 1110,935.9 1111.8,935 1113.6,937 1115.7,936.6 1117.3,938.4 1119.1,937.8 1120.9,939.7 1122.1,939.1 1124.5,946.5 1126,949.1 1128.2,953.9 1130,955.5 1131.1,958.6 1131.8,957.8 1133.6,959.6 1135.5,959 1137.3,961.3 1138.8,960.5 1140.9,962.5 1142.7,961.6 1144.5,963.3 1146.4,962.8 1147.8,964.5 1150,964.3 1151.8,967.1 1153.6,967.1 1155.5,969.5 1156.8,968.7 1159.1,968.9 1160.9,966.7 1162.7,966.9 1164.5,964.4 1166.4,968.2 1168.2,969.6 1170,973.4 1171,973 1171.8,974.7 1173.6,974.5 1175.5,977.1 1177.4,977.3 1179.1,977.1 1180.9,973.8 1182.7,973.9 1184.5,970.7 1186.4,970.2 1188.2,966.9 1190,967 1191.8,963.8 1192.8,964.5 1193.6,962 1195.5,962 1196.7,958.9 1199.1,960.9 1200.9,959.6 1202.7,961.5 1204.5,959.9 1205.7,962 1206.4,959.7 1208.2,960.7 1210,958 1212.1,958.7 1213.6,955.7 1215.5,954.9 1217.3,951.6 1218.5,952 1220.9,949.8 1222.7,950.9 1223.7,949 1224.5,951.2 1226.4,952.1 1228.8,956.2 1230,957 1231.8,961.6 1233.9,964.6 1235.5,968.4 1237.3,969.1 1239.1,973.2 1240.9,971.9 1242.7,973.4 1244.5,972.4 1246.8,974.3 1248.2,972.4 1250,972.8 1251.8,970 1253.6,970.4 1255.5,967.8 1257.1,968.5 1258.8,967.9 1260.9,973.1 1262.7,975 1264,979.4 1266.4,979 1268.2,982 1270,981.4 1271.8,984.3 1274.3,984.3 1275.5,985.3 1277.3,983.2 1279.1,983.9 1280.9,980.7 1282.7,981.8 1284.5,979.1 1286.4,979.1 1288.2,974.8 1290,974.5 1292.3,970.7 1293.6,971.3 1295.5,967.2 1297.4,966.4 1298.3,958.7 1299.1,959.9 1300.9,954.4 1302.2,955.4 1304.5,950.6 1306.4,951 1308.2,947.4 1310,948.1 1311.8,944 1313.8,945.8 1315.5,942.8 1317.3,944.6 1318.9,941.7 1320.9,945.6 1322.7,945 1324.1,949.5 1326.4,948.9 1327.9,952.5 1330,948.5 1331.8,948.9 1333.6,944.4 1334.3,947.3 1335.5,942.4 1337.3,941.8 1339.5,934.6 1340.9,928.7 1342,920.2 1342.7,920.7 1344.5,914.1 1345.9,913.2 1348.2,904.3 1349.8,902.7 1351.8,895.5 1353.6,894.1 1355.5,886.5 1357.5,885.6 1359.1,879.8 1361.3,880.5 1362.7,878.2 1364.5,882.2 1366.5,880.2 1368.2,884.9 1370,884.3 1371.8,889.8 1372.9,887.1 1373.6,892.1 1375.5,895.2 1376.8,902.6 1379.3,909.9 1380.9,921.8 1381.9,922.2 1382.7,930 1384.5,933.9 1386.4,940.2 1388.2,938.9 1389.6,944.5 1392.2,954 1392.8,958.2 1393.6,961.4 1395.5,978.4 1396.4,979.6 1397.3,988.6 1399.1,990.8 1400.9,1002.2 1401.5,1001.2 1402.7,1009.1 1404.5,1011.6 1406.7,1023.9 1408.2,1023.2 1410,1031.4 1411.8,1031.8 1413.6,1040.2 1415.7,1040.3 1417.3,1049.3 1419.5,1051.1 1420.9,1062.5 1422.7,1069.1 1423.4,1076.1 1424.5,1075.5 1426.4,1088.1 1428.5,1090.8 1430,1096.7 1431.8,1095.9 1433.6,1103.6 1435,1100.9 1437.3,1105.2 1439.1,1102.6 1441.4,1106.8 1442.7,1104.6 1444.5,1108.6 1446.4,1105.2 1448.2,1111.9 1450.4,1107.9 1451.8,1112.3 1453.6,1109 1455.5,1113.7 1457.3,1112.1 1458.1,1116.4 1459.1,1112 1460.9,1116.8 1462.7,1113.2 1464.5,1117.2 1466.4,1114.7 1467.1,1118.4 1468.2,1115 1470,1118.1 1471.8,1113.6 1473.6,1118 1475.5,1114.5 1477.4,1118.4 1479.1,1117.8 1480.9,1125.6 1482.5,1121.7 1484.5,1130.1 1486.4,1125.7 1488.2,1131.5 1489,1127.2 1490,1130.9 1491.8,1127.2 1493.6,1132.2 1495.5,1127.2 1496.7,1132.6 1499.1,1126.7 1500.9,1130.8 1502.7,1125 1504.5,1130.9 1505.7,1126.1 1506.4,1132.2 1508.2,1127.8 1510,1134.7 1512.1,1131.2 1513.6,1137.6 1515.5,1131.6 1517.3,1137.8 1519.1,1133.7 1521.1,1139.8 1522.7,1133.3 1524.5,1139.9 1526.7,1133.8 1528.2,1138.4 1530,1131.3 1531.8,1133.9 1533.1,1128.2 1535.5,1134.6 1537.3,1131.1 1538.3,1138.7 1539.1,1135.1 1540.9,1140.3 1542.7,1137.5 1544.5,1145.2 1546,1139.4 1548.2,1148.8 1550,1145.3 1552.4,1152.6 1553.6,1146.6 1555.5,1153.5 1557.3,1148.5 1559.1,1153.7 1561.4,1150.2 1562.7,1158.2 1564.5,1155.2 1566.5,1166.7 1568.2,1157.3 1570,1160.7 1571.8,1152.3 1574.3,1156.7 1575.5,1152.1 1577.3,1157.4 1579.1,1153.2 1580.7,1159.4 1582.7,1157 1584.5,1164.2 1586.4,1160.4 1588.4,1167.1 1590,1162.4 1591.8,1166.3 1593.6,1159.3 1595.5,1164.4 1596.1,1161.1 1597.3,1165.6 1599.1,1156.3 1600.9,1161.4 1602.5,1154.9 1604.5,1162.2 1606.4,1159.1 1608.6,1168.6 1610,1166 1611.8,1176 1613.6,1174.9 1615.1,1182.3 1617.3,1173 1619.1,1178.4 1621.5,1168.5 1622.7,1175.5 1624.5,1168.9 1626.4,1176.5 1628.2,1172.6 1630.5,1177.3 1631.8,1171.3 1633.6,1175.6 1635.5,1169 1637.3,1172.1 1638.2,1165.8 1639.1,1171.8 1640.9,1165.7 1642.7,1171.4 1644.5,1165.1 1645.9,1169.1 1648.2,1164.9 1650,1170.9 1651.8,1167.5 1653.6,1171.8 1655.5,1167.6 1657.3,1172.5 1659.1,1165.8 1661.3,1171.1 1662.7,1164.1 1664.5,1171.8 1666.4,1165.2 1668.2,1170.5 1669,1166.7 1670,1172.2 1671.8,1166.6 1673.6,1174.4 1675.5,1168 1676.8,1174.5 1679.1,1167.7 1680.9,1173.1 1682.7,1164.2 1684.5,1169.3 1686.4,1162.2 1688.2,1167.3 1690,1161.9 1692.2,1166.7 1693.6,1161.8 1695.5,1167.4 1697.3,1163.5 1699.1,1169.3 1699.9,1164.2 1700.9,1170.2 1702.7,1166.2 1704.5,1171.1 1706.3,1167 1708.2,1175 1710,1167.6 1711.8,1174.2 1712.7,1169.4 1713.6,1174.2 1715.5,1168.8 1717.3,1174.6 1719.1,1166.7 1720.5,1170.3 1722.7,1165 1724.5,1171 1726.4,1164.5 1728.2,1171.5 1729.5,1164.1 1731.8,1170.1 1733.6,1165.7 1735.5,1171.4 1737.2,1164.8 1739.1,1172.7 1740.9,1168.2 1742.7,1174.2 1744.5,1169.1 1746.2,1178.5 1748.2,1170.1 1750,1176.3 1751.8,1169.6 1753.9,1173.3 1755.5,1169.2 1757.3,1173.9 1759.1,1165.9 1760.3,1173.4 1762.7,1168 1764.5,1176.7 1766.7,1171.4 1768.2,1176.1 1770,1170 1771.8,1175.3 1773.6,1166.7 1774.4,1173 1775.5,1165.5 1777.3,1172.6 1779.6,1165.3 1780.9,1169.3 1782.7,1164.1"/>
<polyline class="c" stroke="#0000ff" stroke-width="8.3" points="271.8,1136.4 273.6,1146.2 275.3,1133.6 277.3,1146.6 279.1,1134 280.4,1141.7 282.7,1134.7 284.5,1150.3 286.2,1142.5 288.2,1152.6 290,1141.1 292,1152.1 293.6,1141.7 295.5,1148.4 297.8,1136.7 299.1,1140.7 300.4,1124.4 302.7,1133.5 304.5,1119.6 306.4,1127.6 308.2,1117.4 309.4,1128.1 310,1119.2 311.8,1130.4 313.6,1122.9 314.5,1131.4 315.5,1130.7 317.1,1149.1 319,1140.7 320.9,1150.3 322.7,1135.5 324.1,1146 326.4,1136.6 328.2,1150.1 329.9,1138 331.9,1151.4 333.6,1135.7 335.1,1141.2 337.3,1130.5 338.3,1136.5 339.1,1127.3 340.9,1141.1 342.7,1134.2 344.7,1144.5 346.4,1136.1 348.2,1146.2 349.9,1134.7 351.8,1140.4 353.6,1128.6 355,1136.4 357.3,1128 359.1,1133.4 360.9,1123.5 362.7,1131.5 364.5,1123.9 366.4,1132.4 367.8,1125 370,1141.1 371.7,1134.7 373.6,1144 375.6,1134.2 377.3,1142.1 379.1,1130.6 380.9,1137.3 382,1128.7 382.7,1137.3 384.5,1128.1 386.5,1142.3 388.4,1142.6 390,1151.4 392.3,1146.7 393.6,1157 395.5,1148.8 397.3,1156.5 398.7,1143.7 400,1142 400.9,1134.7 402.7,1145.9 404.5,1136.7 406.4,1149 408.2,1143.2 410,1151.3 411.6,1144.4 413.6,1153.4 415.5,1145.7 416.7,1152.7 419.1,1136.7 420.5,1136.5 422.7,1124.5 424.5,1132.7 425.7,1123.8 426.4,1132.3 428.2,1122.3 430,1127.8 431.8,1121.8 433.4,1125.7 435.5,1122.1 437.3,1128.8 439.1,1122.5 439.8,1130.8 440.9,1125.2 442.7,1131.8 444.5,1123 446.3,1130.6 448.2,1123.1 450,1129.8 451.8,1123 452.7,1129.8 453.6,1121.2 455.5,1129 457.3,1121 459.1,1127.4 460.9,1117.9 462.7,1120.3 464.5,1110.6 465.5,1116.3 466.4,1108.9 468.2,1113.2 470,1105.4 472,1110.5 473.6,1104.7 475.5,1109.7 477.3,1102.5 478.4,1106.9 479.1,1102.8 480.9,1106.8 482.7,1103.7 484.8,1109.1 486.4,1104 488.2,1107.3 490,1102.5 491.2,1107.3 493.6,1098.5 495.5,1100.8 496.4,1094.3 497.3,1095 499.1,1084 500.2,1083.6 500.9,1078.5 502.7,1077.2 504.1,1069.2 506.4,1071.2 508,1065.1 510,1070 511.8,1066.1 513.6,1071.8 514.4,1067.3 515.5,1072.8 517.3,1067.5 519.5,1073.1 520.9,1066.9 522.7,1066.8 523.4,1061.9 524.5,1065.5 526.4,1059.9 528.2,1065.5 529.8,1061 531.8,1062.8 533.6,1055.5 534.9,1059.5 537.3,1053.9 538.9,1056.6 540.9,1045.2 542.7,1044.3 544.1,1033.9 546.4,1035.8 548.2,1027 550,1028.2 551.8,1021.3 553.6,1024.4 555.6,1019.8 557.3,1025.8 557.9,1022.9 559.1,1023.4 560.9,1015.8 563.1,1015.1 564.5,1007.4 566.4,1008 568.2,1000.6 569.5,1002.7 571.8,993.9 573.6,994.5 575.5,986.4 577.2,986.6 579.1,979.4 580.9,981 582.7,973.4 584.9,975.7 586.4,966.5 588.2,967.7 590,958.7 591.4,959.2 593.6,950.5 595.5,951.1 597.8,942 599.1,939.6 600.9,928.8 601.6,931.6 602.7,923.6 604.5,923.9 606.8,912.8 608.2,912.3 610,901.2 610.6,903.4 611.8,897.4 613.6,897.1 614.5,891.5 615.5,894.4 617.3,886.7 619.1,887.5 620.9,879 622.2,881.3 624.5,869.5 626.1,866.4 628.2,858.1 630,858.6 631.8,851 632.5,853.2 633.6,847.5 635.5,846.1 637.3,839.3 638.9,838.5 640.9,830.5 642.1,832.2 644.8,826.8 646.4,824.8 648.7,811.8 650,812.4 651.8,805.8 652.5,809 653.6,800.3 655.1,799.2 657.3,790.3 659.1,789.4 660.2,783.2 660.9,786.4 662.7,778.7 664.1,779.8 666.7,768.3 668.2,770.2 670,763.9 671.8,765.2 673.1,759.7 675.5,762.7 677.3,758.1 679.5,760.5 680.9,757.4 682.7,762.8 684.7,761.7 686.4,763.1 688.2,757.9 689.8,759.7 691.8,751.4 693.6,751.3 695.5,746.1 697.3,748.4 699.1,744.6 700.1,748 700.9,743 702.7,744.3 704.5,738.2 705.2,741.4 706.4,738 708.2,742 710.4,739.3 711.8,743 713.6,741.4 715.5,744.8 716.8,742.6 719.1,747.5 720.9,744 723.2,747.5 724.5,744.5 726.4,748.5 728.2,745.6 729.6,748.8 731.8,746.9 733.6,752.5 734.8,750.1 736.1,765.1 737.3,761.4 739.1,767.2 740.9,766.3 742.5,769.9 744.5,765.8 746.4,768.9 748.2,766.2 748.9,769.2 750,764.4 751.8,764.5 754.1,757.5 755.5,759.6 757.3,756.2 759.2,758.2 760.9,768.6 761.8,778.4 762.7,772.5 764.5,770.6 765.6,765 766.4,763 768.2,748.5 770,745.2 772.1,736.2 773.6,731.9 775.9,720.7 777.3,716.5 778.5,708.2 780.9,701.4 782.3,694.4 784.9,683.6 786.2,668.5 788.2,664.9 790.1,657.8 791.8,649.6 792.6,643.6 793.6,639.4 795.2,629.4 795.8,627.6 797.3,616.2 799.1,604.6 800.7,592 802.7,579.4 804.5,566 805.9,557.9 808.2,543.8 809.7,536.5 811.8,520.1 813.6,508.1 815.5,491 816.8,479.8 819.4,450.7 820.9,438.9 821.9,429.6 822.6,428.1 824.5,410.3 825.8,399.9 828.2,367.9 829,357.6 830,343.9 832.2,315.1 833.6,295.8 835.4,272.9 837.3,255.7 838.6,244.6 839.3,227.6 840.9,210.4 843.1,185 844.5,173 846.4,155.7 847,150.7 848.2,141.1 850,128.7 850.9,121.5 851.8,115.4 853.6,101.3 854.7,94.2 855.5,89.2 857.3,80 858.6,72.1 860.9,64.3 862.7,57.2 863.7,54.3 864.5,53.1 866.9,52.9 868.2,56.2 870.1,63 871.8,64.7 874,68.5 875.5,70.3 877.3,73.9 879.1,76.4 880.9,80.1 882.7,82.1 884.3,85.5 886.4,86.3 888.2,88.8 889.4,89.1 891.8,83 893.3,77.8 895.8,65.9 897.3,63.2 899.7,61.3 900.9,65.8 902.3,72.8 904.2,81.9 906.1,70.2 908.7,60.7 910,61.9 911.8,62 912.6,63.1 913.6,69.2 914.5,75.8 915.5,82.6 916.4,91.5 917.3,92.4 919.1,98.3 920.3,100.2 920.9,103.4 922.8,108.8 924.8,123.6 926.7,134.1 928.2,139.8 929.3,142.4 930,145.5 931.8,149.7 933.6,155.5 934.4,156.9 935.5,163.5 937.3,172.4 938.3,178.7 939.1,182.6 940.8,193 942.7,202.3 943.4,207.2 944.5,208.8 946.4,213.9 948.5,217.6 950,222.2 951.9,226.2 953.2,234.1 955.5,235.7 957.3,238.6 958.3,238.9 959.1,245.5 960.9,257.1 962.7,271.6 963.5,275.7 964.5,279.3 966.4,281.8 967.3,285.3 968.2,286.6 970,293 971.2,295.5 971.8,300.2 973.7,309.6 975.5,320.2 976.3,323.8 977.3,325.7 979.1,327 980.2,329.1 981.4,342.2 982.7,350.2 984,356.1 986.6,371.6 988.1,380.7 990.4,394.8 991.8,398.8 993.6,406.6 994.3,408 995.5,415.1 996.9,421.7 999.4,444.3 1000.9,451.1 1003.3,465.6 1004.5,474.7 1005.9,486.4 1008.2,500.8 1009.1,508.2 1010,512.9 1012.3,529 1013.6,536.6 1015.5,550.2 1017.3,557 1019.1,567 1020,570.4 1020.9,574.2 1022.7,576.9 1023.9,580.6 1025.1,593.4 1026.4,603.3 1027.7,610.4 1030,615.8 1031.8,616.7 1032.9,620.6 1033.6,623.5 1035.4,637.1 1037.3,645.7 1038,651.2 1039.1,654.2 1041.2,665.4 1043.1,681.2 1044.5,687.9 1046.4,692.4 1047,696.5 1048.2,698.2 1050,705.4 1050.9,706.3 1052.1,722 1053.6,724.4 1056,734.3 1057.3,733.1 1059.1,738.2 1059.9,737.4 1060.9,742.5 1062.7,743 1063.7,748.7 1064.5,748.1 1066.4,756.4 1067.6,756.6 1070,764.5 1071.8,765 1072.7,769.8 1073.6,769.1 1075.9,777.6 1077.1,778.6 1079.1,783 1080.9,782.5 1082.7,787.4 1083.6,786 1084.5,790.5 1086.4,789.8 1088.2,795.5 1090,794.8 1091.8,800.4 1093.6,797.9 1095.5,802.3 1096.4,800.4 1097.3,803.6 1099.1,801.7 1100.9,807.9 1102.8,805.7 1104.5,812.4 1106.7,814.4 1108.2,816.8 1110,815.3 1111.8,819.2 1113.6,814.8 1115.7,820.5 1117.3,816.4 1119.1,820.5 1120.9,817.5 1122.7,820.7 1123.4,817.9 1124.5,820.6 1126.4,816.7 1128.2,820.8 1130,816.9 1132.4,820.7 1133.6,816.2 1135.5,819.7 1137.3,814.1 1139.1,817.9 1140.1,813.2 1140.9,815.5 1142.7,805.9 1144,808.3 1146.4,801.6 1147.8,805.4 1150,804 1151.8,810.6 1154.2,808.4 1155.5,811 1157.3,804.1 1159.4,803.9 1160.9,795.6 1163.2,793 1164.5,791 1166.4,798.5 1168.4,799 1170,800.9 1171.8,794.7 1173.5,797 1175.5,794.7 1177.3,798.3 1179.1,794.9 1180,799.5 1180.9,794.9 1182.7,797 1184.5,792.8 1186.4,795.5 1187.7,791.4 1190,803.4 1191.5,804.2 1193.6,804 1195.5,795.6 1196.7,796.1 1199.1,791.1 1200.5,793.3 1202.7,791.6 1204.5,797.5 1206.4,796.5 1208.2,804.1 1210,802.5 1211.8,808.8 1213.4,807.3 1215.5,808.3 1217.3,802.9 1219.1,804.5 1219.8,799.1 1220.9,805.5 1222.7,807.2 1223.7,813.2 1224.5,812.2 1226.2,823.9 1228.2,825 1230.1,834.5 1231.8,829.7 1233.6,832.3 1235.5,826.6 1237.8,829.4 1239.1,824.7 1240.9,827.4 1242.7,822.4 1244.2,824.4 1246.4,830.4 1248.1,841.3 1250,844.6 1251.9,854.4 1253.6,852.2 1255.5,860.8 1257.1,857.6 1259.1,868.1 1260.9,869.1 1262.7,873.8 1263.6,869.3 1264.5,876.7 1266.4,877.3 1267.5,885.2 1268.2,880.7 1270,887.4 1271.8,884 1272.6,889 1273.6,887.3 1275.5,896.1 1277.8,898.1 1279.1,904.1 1280.9,901.7 1282.9,910 1284.5,912.4 1285.5,922.2 1286.4,919.4 1288.2,928.1 1289.3,926.7 1290,931.3 1291.8,930.5 1293.6,939.7 1294.5,935.4 1295.5,940.2 1297.3,933 1299.6,939.6 1300.9,933.1 1302.7,941.8 1304.8,938 1306.4,950.9 1307.3,950.4 1308.2,956.1 1309.6,951.5 1311.8,965.5 1314.1,964.1 1315.5,974.2 1317.3,972.4 1319.3,984.1 1320.9,977.8 1322.7,989.5 1324.5,983.5 1325.7,993 1326.4,988 1328.2,995.2 1330,992.6 1330.8,1001.2 1331.8,993 1333.6,997.8 1335.5,989.3 1337.3,993.3 1339.1,988.1 1340.9,995.6 1342.4,987 1344.5,1003 1346.4,999.6 1347.6,1009.5 1350,1008.3 1351.8,1017.9 1352.7,1012.4 1353.6,1021.4 1355.5,1012.6 1357.8,1016.2 1359.1,1013.5 1360.9,1026 1363,1025.4 1364.5,1032.3 1366.4,1029.2 1368.1,1038.2 1370,1035.2 1371.8,1048.8 1373.3,1043.7 1375.5,1056.1 1377.3,1048.9 1379.7,1061.5 1380.9,1053.3 1382.7,1058.8 1384.5,1053.2 1386.4,1061.2 1387.4,1052.8 1388.2,1060.5 1390,1054.8 1391.8,1064.1 1392.5,1056 1393.6,1066.2 1395.5,1055.3 1397.3,1061.7 1399,1056.5 1400.9,1063.5 1402.7,1060 1404.5,1068.3 1405.4,1064.6 1406.4,1070.6 1408.2,1064.4 1410.5,1076.8 1411.8,1068.4 1413.6,1072.2 1415.7,1064.1 1417.3,1070.3 1419.1,1063.3 1420.9,1074.8 1422.7,1064.6 1423.4,1072.5 1424.5,1066.4 1426.4,1077.4 1428.2,1069.6 1429.8,1079.5 1431.8,1078.8 1433.7,1091.2 1435.5,1083 1437.3,1092.8 1438.8,1087.4 1440.9,1092.6 1442.7,1078.6 1444.5,1084.3 1445.3,1075 1446.4,1084.6 1448.2,1080.3 1450.4,1093.4 1451.8,1085.9 1453.6,1096.8 1455.5,1090.1 1457.3,1097.8 1459.1,1090 1460.9,1093.6 1462,1087.1 1462.7,1095.4 1464.5,1088.4 1466.4,1097.5 1468.2,1087.7 1469.7,1095.1 1471.8,1089.1 1473.6,1103.2 1475.5,1096 1476.1,1104.2 1477.3,1097.1 1479.1,1103.6 1480.9,1099.1 1482.7,1108 1483.8,1099.5 1484.5,1105.7 1486.4,1100.2 1488.2,1106.7 1490,1097.7 1491.5,1107.1 1493.6,1103.4 1495.5,1110.8 1497.3,1105.2 1498,1113.7 1499.1,1105.7 1500.9,1117.7 1502.7,1108.6 1504.5,1116.4 1505.7,1107 1506.4,1116.8 1508.2,1109.3 1510,1119.1 1511.8,1107 1513.6,1116.8 1515.9,1108.2 1517.3,1116.7 1519.1,1109.1 1520.9,1118.9 1522.7,1109.4 1524.5,1118.6 1526.2,1113.6 1528.2,1121.3 1530,1113.6 1531.8,1124 1533.6,1116.3 1535.2,1122.1 1537.3,1115.7 1539.1,1121 1540.9,1111.5 1542.7,1121.7 1544.2,1113.6 1546.4,1121.6 1548.2,1115.6 1550,1124.3 1551.9,1117.5 1553.6,1126.6 1555.5,1118.6 1557.3,1127.5 1559.1,1116.1 1560.9,1128.5 1562.2,1120.3 1563.6,1129.8 1564.5,1120.1 1566.4,1130.5 1568.2,1122.8 1570.1,1134.1 1571.8,1126.4 1573.6,1129.9 1575.5,1119.1 1576.5,1127 1577.3,1121.2 1579.1,1134.7 1580.9,1128.3 1581.6,1141.6 1582.7,1126.8 1584.5,1130.7 1586.8,1118.9 1588.2,1129.8 1590,1123.7 1591.8,1138.3 1593.2,1131.9 1595.5,1140.5 1597.3,1129.5 1599.6,1137.5 1600.9,1126.7 1602.7,1133.8 1604.8,1119.6 1606.4,1135.8 1608.2,1126.9 1609.9,1141.1 1611.8,1128.5 1613.6,1137.2 1615.1,1123.2 1617.3,1135.3 1619.1,1124.9 1620.2,1133.5 1620.9,1124.3 1622.7,1139.7 1624.5,1134 1625.3,1146.6 1626.4,1133.8 1628.2,1144 1630,1130 1631.8,1137.5 1633.6,1128.9 1635.5,1138 1636.9,1127.8 1639.1,1135 1640.8,1119.7 1642.7,1130.4 1644.5,1119.4 1645.9,1129.5 1648.2,1131.5 1649.1,1143 1650,1133.2 1651.8,1142 1653.6,1131.1 1655.5,1144.4 1657.3,1133.7 1658.8,1149.8 1660.9,1130.4 1662.6,1131.5 1664.5,1121.3 1666.4,1130 1667.8,1121.9 1670.3,1148.2 1671.8,1132.2 1673.6,1142.3 1675.5,1127.9 1676.8,1139.2 1679.1,1128.8 1680.9,1137.9 1681.9,1123.8 1682.7,1139 1684.2,1143.1 1685.7,1101.8 1686.8,1075.3 1687.8,1107.3 1688.6,1129.1 1689.6,1096.5 1690.4,1068.5 1691.4,1101.8 1692.2,1130.1 1692.9,1096.3 1693.7,1075.1 1694.7,1101.7 1695.8,1130.2 1696.9,1113.2 1698,1100.6 1699,1118.6 1699.9,1130.1 1701.2,1113.3 1702.5,1097.9 1703.5,1115.8 1704.4,1130 1705.4,1114.9 1706.3,1100.4 1707.3,1119 1708.2,1132.9 1710.2,1144.2 1711.8,1136.8 1714,1133.4 1715.5,1123.1 1717.3,1136.4 1719.2,1127.1 1720.9,1141.8 1723,1137.8 1724.5,1144.6 1725.6,1128.8 1726.4,1142.8 1728.2,1126 1729.5,1137 1731.8,1126.2 1733.6,1138.9 1735.9,1133.5 1737.3,1143.2 1739.1,1134.4 1741,1144.5 1742.7,1130.3 1744.5,1142.6 1746.4,1128.8 1747.4,1138.5 1748.2,1127.5 1750,1138.5 1751.8,1127.5 1752.6,1141.4 1753.6,1131.5 1755.5,1145.7 1756.4,1135.7 1757.3,1146.6 1759.1,1132 1760.9,1147.5 1762.9,1137.4 1764.5,1146.7 1766.4,1139.8 1768.2,1148.9 1769.3,1140.1 1770,1148.8 1771.8,1140.5 1773.6,1153.3 1774.4,1140.2 1775.5,1150.2 1777.3,1141.4 1779.6,1147 1780.9,1136.6 1782.7,1147.7"/>
<polyline class="c" stroke="#800080" stroke-width="8.3" points="271.8,1158.7 273.6,1164 275.3,1159.3 277.3,1164.1 279.1,1158.1 280.9,1163.3 282.7,1157.9 284.5,1164.5 285.6,1157.6 286.4,1164.6 288.2,1157.6 290,1160.6 291.8,1154.1 293.6,1158.2 294.6,1153.5 295.5,1157 297.3,1150.5 299.7,1156.3 300.9,1150.3 302.7,1157.1 304.9,1153.3 306.4,1160.9 308.2,1157.9 310,1164 311.3,1160.2 313.6,1164.8 315.5,1161 317.3,1166.5 319,1162 320.9,1166 322.7,1157.2 324.1,1160.7 326.4,1153.1 328.2,1158.8 329.3,1151.6 330,1158.1 331.8,1154.2 333.6,1158.2 334.4,1155.2 335.5,1161.1 337.3,1155.5 339.6,1162.8 340.9,1157.3 342.7,1161.1 344.5,1154.5 346.4,1158.8 347.3,1155.4 348.2,1157.5 350,1152.1 351.8,1156.1 353.6,1148.5 355,1152.1 357.3,1147 359.1,1150.8 360.9,1145.3 362.7,1150.6 364.5,1146 366.4,1149.1 368.2,1143.3 370.4,1147.6 371.8,1139.6 373.6,1141.5 375.6,1133.5 377.3,1136.8 379.1,1131.6 380.9,1137.6 382,1132 382.7,1136.3 384.5,1133.7 386.4,1139.3 388.4,1135.4 390,1143.2 391.8,1138.5 393.6,1144.7 395.5,1141 397.3,1145 398.7,1138.1 400.9,1136.5 402.6,1127.8 404.5,1131.7 406.4,1125.4 408.2,1129.5 409,1126.6 410,1131.4 411.8,1126.4 413.6,1131.7 415.4,1127.2 417.3,1136.7 419.3,1135.9 420.9,1141.2 422.7,1139.1 424.4,1142.6 426.4,1135.9 428.3,1136.9 430,1129.9 431.8,1131.3 433.4,1124.8 435.5,1128.6 437.3,1122.3 439.1,1125.3 439.8,1120.1 440.9,1124.9 442.7,1117.4 444.5,1121.9 446.3,1116.2 448.2,1119.7 450,1115.1 451.8,1118.7 452.7,1114.4 453.6,1116.5 455.5,1110.4 456.5,1113.5 457.3,1105.2 459.1,1102 460.9,1095.4 463,1098.6 464.5,1096.2 466.4,1101.6 468.1,1097.8 470,1097.3 472,1089.3 473.6,1088.9 475.8,1080.6 477.3,1086.8 479.1,1083.9 481,1089 482.7,1085.9 484.8,1092.3 486.4,1086.3 488.2,1089.1 490,1085 491.8,1084.6 493.8,1076.6 495.5,1076.5 497.7,1065.8 499.1,1064.5 500.2,1054.7 500.9,1057.7 502.7,1050 504.1,1050.7 506.4,1043.4 508,1044.8 510.5,1028.4 511.8,1032.7 513.6,1027.2 515.7,1030.4 517.3,1024.6 519.5,1027.2 520.9,1017.9 522.1,1016.3 524.5,1006.7 525.3,1008.3 526.4,1001.5 528.4,998.8 530,993.2 531.8,994.4 533.6,986.8 535.5,988.5 537.4,981.4 539.1,984.3 540.9,975.9 542.7,977.1 545.1,969.8 546.4,970.8 548.2,965.3 550,967.2 551.8,960.3 552.8,962.9 554.1,940.7 555.5,943.3 557.3,936.3 559.1,936.6 560.5,930.4 562.7,927.7 564.4,917.9 566.4,918.5 568.2,910 569.5,912 571.8,902.6 573.6,901.4 574.6,895.1 575.5,897.4 577.3,890.8 579.1,890.9 581.1,882.4 582.7,884.2 584.5,877.3 586.2,878.7 588.2,870.3 590,870.3 591.4,863.4 593.6,862.5 595.5,854.4 596.5,855.9 597.3,850 599.1,853 600.9,845.7 602.9,847 604.5,840.2 606.4,839.8 608.2,832.1 609.4,834.2 609.5,825.6 611.8,826.3 613.6,817.6 615.2,818.5 617.3,814.3 619.1,816.1 620.9,811.2 622.7,814.4 624.2,809.2 626.4,811.2 628.2,804.9 630,806.8 631.8,800.2 633.2,802.4 635.5,798 637.3,802.3 639.1,798.3 640.9,802.7 642.2,797.6 644.5,796.5 646.4,789.2 647.4,789.8 648.2,785.5 650,788.5 651.8,783.2 653.8,786.4 655.5,779.6 657.3,780.9 658.9,774.5 660.9,781 662.7,779.9 664.5,785.7 665.4,781.5 666.4,786.2 668.2,784.1 670,790.4 671.8,788.3 673.6,792 675.5,787.8 677.3,791.9 679.1,788.8 680.8,792.6 682.7,783.6 684.7,781.1 686.4,772.6 688.5,773.5 690,767.4 691.8,769.4 693.6,764.1 694.9,766.3 697.3,758.8 699.1,760.7 700.1,755.5 700.9,759 702.7,754.7 704.5,757.9 706.4,752.5 707.8,756.7 710,749.3 711.8,749.3 712.9,743.4 713.6,747.4 715.5,743.4 717.3,746.2 719.1,743.7 720.6,745.8 722.7,741.1 724.5,743.2 726.4,738.8 727.1,741.3 728.2,739 730,744.3 731.8,742.1 733.5,745.8 735.5,738.5 737.3,737.1 739.1,729.8 739.9,730.2 740.9,725.3 742.7,727.3 743.8,722.2 744.5,724.7 746.4,720.3 748.2,723.7 750.2,718.8 751.8,718 754.1,708.7 755.5,707.2 756.6,698.9 757.3,700.5 759.1,691.6 760.5,690.2 762.7,681.9 764.3,680.5 766.9,665.7 768.2,661.6 769.5,652.8 772.1,644 773.6,633.7 774.4,632.4 774.4,627 775.5,622.5 777.3,608.2 778.9,600.6 780.9,584.2 782.7,572.7 784.5,556.8 786.6,544.3 788.2,528.1 789.8,515.6 792.4,486.1 793.6,473.8 794.9,457.6 797.3,432.6 797.5,424.3 799.1,414.1 800.9,400 802,393.3 802.7,386.9 804.5,375.7 806.4,362.3 807.2,357.7 808.2,349 810,336.7 811,328.7 811.8,323.4 813.6,309.1 814.9,301.2 817.3,279 818.1,272.6 819.1,263.2 821.3,244.4 822.6,227.6 825.1,193.1 826.4,178.9 827.7,164.8 830,147.2 831.6,136.4 834.1,114.5 835.5,105.6 837.3,91.4 838,87.2 839.1,79.3 841.2,67.4 842.7,58.3 843.8,53.8 844.5,55.4 846.4,62.1 847,63.4 848.2,59.1 849.6,52 851.8,62.1 852.8,65 853.6,61.8 855.4,52 857.3,60.8 858.6,65 861.1,53.7 862.7,59.6 864.4,67.5 866.3,86.2 868.2,99.6 868.9,102.9 870,109 872.1,117.1 873.6,125.2 875.3,131.3 877.3,139.2 879.1,143.9 880.9,146.4 882.7,146.2 884.5,148.8 885.6,148.4 886.4,150.3 888.2,150.1 890,152.8 890.7,152.5 891.8,158.9 893.3,165.3 894.6,173.5 895.5,170.3 897.3,167.3 898.4,163.7 899.1,161.4 901,149.8 902.7,147.1 904.8,140.9 906.4,140.1 908.2,135.2 910,134.1 911.8,137.3 913.8,143.5 915.5,150.2 917.7,162 919.1,159 920.9,158.6 921.6,156.5 922.7,151 924.1,141 926.4,146.1 928,146.5 930,155.6 931.8,161 933.6,167 935.5,170.5 937,176.4 939.1,177.6 940.2,181 941.5,142.2 942.8,104.6 944,88.7 946.6,104 948.5,128.3 950,138.1 952.4,149.6 953.6,160.9 955,170.9 956.3,181.2 957.3,177 959.1,174.2 961.4,167.8 962.7,170 964.5,169.8 965.3,172.5 966.4,179.7 967.8,193.7 969.8,209.1 971.2,227.8 971.8,230.4 973.1,241.9 975.5,249.5 976.3,254.9 977.3,255 979.1,262.6 980.2,264 980.9,271.3 982.1,277.8 982.7,286.9 983.4,292.1 984.5,299.7 986.6,306.1 988.2,311.6 990.4,314.4 991.8,320 993.6,322.2 994.3,325.2 995.5,324.8 997.3,328.6 999.1,329 1000,332.4 1000.9,336 1001.8,344.1 1002.7,336.8 1003.6,332.1 1004.5,339.6 1005.5,350.6 1006.4,339.6 1007.3,332.7 1008.2,349.3 1009.1,369.8 1010,349.1 1010.9,332.9 1011.8,351.9 1012.7,374.6 1013.6,351.8 1014.5,333.7 1015.5,322.7 1016.4,315.8 1017.3,323.6 1018.2,334.8 1019.1,357.8 1020,384.7 1020.9,358.1 1021.8,334.7 1022.7,360.7 1023.6,391 1024.5,360.9 1025.5,335.6 1026.4,362 1027.3,391.7 1028.2,361.8 1029.1,337.1 1030,374.5 1030.9,415.9 1031.8,376.6 1032.7,342.1 1033.6,376.7 1034.5,416.6 1035.5,392.4 1036.4,372.7 1037.3,392.8 1038.2,417.6 1039.1,393.8 1040,374.5 1040.9,398.9 1041.8,427.4 1042.7,399.3 1043.6,376.7 1044.5,400.4 1045.5,428.4 1046.4,409.8 1047.3,393.8 1048.2,408.9 1049.1,428.8 1050,410 1050.9,395.6 1051.8,408.9 1052.7,426.4 1053.6,406.9 1056,364.5 1057.3,394.3 1058.2,421.9 1059.1,463.4 1060.2,502.3 1060.9,510.5 1061.8,526.9 1062.7,517.8 1064.5,507.8 1065.9,494 1068.2,475.2 1068.8,465.3 1070,474 1071.8,480.8 1073.6,523 1074.1,548.5 1075,592.3 1075.9,618 1077.3,603.2 1079.1,575.7 1080.9,591.8 1082.3,598.7 1083.2,661.8 1084.5,698.8 1086.4,731.9 1088.2,719.3 1090,714.7 1091.4,705.8 1093.6,715 1094.5,714 1095.5,725.7 1096.8,734.4 1098.2,774.2 1099.1,765.1 1100.9,758.1 1103.2,740.1 1104.5,748.1 1106.4,751 1108.6,779.8 1109.9,785.8 1111.2,803.2 1113.1,818.2 1115.5,825.1 1117,825.6 1119.1,836.5 1120.8,841.1 1122.7,844.6 1123.4,841.9 1124.5,838.3 1126.6,820.3 1128.2,817 1129.8,805.9 1131.8,808.3 1133.7,803.9 1135.5,823.8 1136.3,827.6 1137.5,866.5 1138.8,891.2 1140.1,909.9 1140.9,901.3 1142.7,889.9 1144,877.4 1146.5,840.7 1148.2,834 1149.1,834.7 1150,843 1151.7,866.5 1153.6,891.3 1155.5,918.3 1157.3,911.9 1159.1,911.9 1160.7,904.9 1163.2,873 1164.5,866.1 1165.8,865.6 1168.2,870.6 1169.7,881.2 1171.8,892.4 1173.5,908.8 1175.5,901.8 1177.3,900.3 1179.1,893.1 1180,895.1 1180.9,887.6 1182.7,882.9 1185.1,869.6 1186.4,868.2 1188.2,858.2 1189,858.6 1190,858.4 1191.8,869.9 1192.8,869.7 1193.6,880.6 1195.4,891.2 1197.3,889.4 1199.1,881.8 1200.5,881.4 1202.7,874.9 1204.5,875.6 1205.7,870.5 1206.4,870.2 1208.2,855.7 1209.5,852.8 1211.8,838.8 1213.4,834.6 1215.5,829.5 1217.2,830.8 1219.1,842.3 1219.8,852.9 1220.9,866.6 1222.4,892.5 1224.5,878.2 1226.4,872.4 1227.5,862.6 1228.2,872.7 1230,889.2 1231.4,905.5 1233.6,871.8 1235.2,853 1236.5,807.4 1237.3,808.4 1239.1,801.8 1240.9,823 1241.7,827.9 1242.7,837.6 1244.5,843 1245.5,852.9 1246.4,854.4 1248.2,866.3 1249.4,869.8 1251.8,882.5 1253.2,884.4 1255.5,889.3 1257.3,886.1 1258.4,890.2 1259.1,887 1260.9,892.3 1262.7,890.1 1263.6,894.1 1264.5,893.7 1266.4,899.5 1268.8,899.5 1270,902.5 1271.8,898.1 1273.9,899.8 1275.5,894.1 1277.3,897.9 1279.1,892.5 1280.9,894.4 1281.6,891.5 1282.7,893.6 1284.5,889.9 1286.4,891.7 1288.1,886.5 1290,889.8 1291.8,884.2 1293.2,887.6 1295.5,890.8 1297.1,898.2 1299.1,899.5 1300.9,909.1 1302.7,905.5 1304.5,908.5 1306.4,904.7 1307.3,907.5 1308.2,904 1310,908.6 1311.8,904.6 1313.8,908.4 1315.5,908.7 1317.6,916.2 1319.1,912.5 1320.9,914.7 1322.7,911.8 1324.1,914.7 1326.4,908.7 1328.2,912 1330.5,905.9 1331.8,907.8 1333.6,902.4 1335.6,902.8 1337.3,898.3 1339.1,899.6 1340.8,893.4 1342.7,896.2 1344.5,890.6 1346.4,894.7 1347.2,889.9 1348.2,895 1350,892 1351.8,895.8 1353.6,894 1355.5,900.7 1357.3,898.6 1358.8,904.1 1360.9,906.7 1362.6,913.9 1364.5,913.6 1366.5,923.5 1368.2,919.8 1370,925.2 1371.8,923.5 1372.9,927.8 1373.6,922.8 1375.5,928.8 1377.3,926.1 1379.3,932.7 1380.9,936.4 1381.9,945.8 1382.7,944.1 1384.8,957.5 1386.4,954.7 1388.2,963 1390,963.5 1391.8,971.5 1393.6,970.9 1395.1,978.8 1397.3,979.8 1399,989.9 1400.9,989.1 1402.7,997.8 1404.1,993.7 1406.4,1006.3 1408,1005.7 1410,1014.3 1411.8,1012.9 1413.1,1020.8 1415.5,1018.2 1417.3,1024.2 1418.3,1018.6 1419.1,1031.5 1420.8,1031.4 1422.7,1044.3 1423.4,1039.1 1424.5,1044.7 1426.4,1036.7 1428.5,1041 1430,1034.5 1432.4,1037.9 1433.6,1033.4 1435.5,1043.9 1436.3,1038.8 1437.3,1049.2 1438.8,1049.5 1440.9,1057.5 1442.7,1051.2 1444,1058.3 1446.4,1051.8 1448.2,1057.9 1450,1050.3 1451.7,1055.7 1453.6,1054 1455.5,1065.3 1457.3,1062.2 1458.1,1074.8 1459.1,1065.9 1460.9,1073.7 1462.7,1067.5 1464.5,1074.4 1466.4,1068.7 1468.2,1078 1470,1070 1472.2,1080.8 1473.6,1072.5 1475.5,1083.1 1477.3,1076.8 1478.7,1084 1480.9,1077.7 1482.7,1083.9 1483.8,1076.5 1484.5,1084.5 1486.4,1081.6 1488.2,1091.2 1489,1083.9 1490,1090.5 1491.8,1083.5 1493.6,1092.3 1495.4,1085.3 1497.3,1092.1 1499.1,1086.2 1500.9,1091.9 1503.1,1086.3 1504.5,1095.3 1506.4,1088.9 1508.2,1096.8 1510,1089.2 1510.8,1097.4 1511.8,1092 1513.6,1099.5 1515.5,1090.9 1517.3,1101.7 1518.5,1091.6 1520.9,1099.9 1522.7,1090.3 1523.7,1097.3 1524.5,1089 1526.4,1099.2 1528.2,1092.6 1530.1,1102.1 1531.8,1096 1533.6,1105.7 1535.5,1099.4 1536.5,1105 1537.3,1098.8 1539.1,1106.7 1540.9,1102.8 1542.7,1112.3 1544.2,1103.7 1546.4,1112.8 1548.2,1107 1550,1114.4 1551.9,1108 1553.6,1117.5 1555.5,1110.5 1557.3,1118.4 1559.7,1111.8 1560.9,1118.8 1562.7,1110 1563.6,1119.1 1564.5,1108.2 1566.4,1114.6 1568.2,1107.9 1570.1,1115.4 1571.8,1109.4 1573.6,1117.8 1575.2,1114 1577.3,1123.3 1579.1,1118.9 1580.3,1129.1 1582.7,1121.1 1584.5,1129.6 1586.4,1123 1588.2,1133.3 1589.3,1125.1 1590,1131.7 1591.8,1125.6 1593.6,1131.3 1595.5,1126.9 1597.1,1134.5 1599.1,1126.4 1600.9,1132.2 1602.7,1124.4 1604.8,1131.3 1606.4,1128.6 1608.2,1137 1610,1134 1611.2,1141.4 1613.6,1135.5 1615.5,1143.1 1617.3,1136.2 1618.9,1143.3 1620.9,1137.3 1622.7,1146 1624.5,1140.3 1626.6,1149 1628.2,1143.6 1630,1151.8 1631.8,1146.2 1633.6,1152.9 1634.3,1145.2 1635.5,1152.6 1637.3,1144.3 1639.1,1152.4 1640.9,1146.2 1643.3,1152.6 1644.5,1142.7 1646.4,1150.9 1648.2,1146.3 1650,1153.2 1651,1145 1651.8,1153.1 1653.6,1147.7 1655.5,1154.7 1657.3,1148.6 1658.8,1156.2 1660.9,1147.2 1662.7,1156 1664.5,1147.1 1666.5,1157.9 1668.2,1150.1 1670,1156.5 1671.8,1150.5 1674.2,1155.4 1675.5,1148.7 1677.3,1154.1 1679.1,1146.7 1680.9,1155.3 1681.9,1145.1 1682.7,1155.3 1684.5,1146.3 1686.4,1154.8 1688.2,1146.8 1690,1155.5 1692.2,1148.1 1693.6,1158.3 1695.5,1148.3 1697.3,1157.4 1699.1,1149.7 1700.9,1156.9 1702.5,1149.2 1704.5,1154.9 1706.4,1150.2 1708.2,1157.5 1710,1148.3 1711.8,1156.7 1712.7,1151.2 1713.6,1155.6 1715.5,1148.1 1717.3,1157 1719.1,1149.5 1720.9,1157.4 1723,1148 1724.5,1154.2 1726.4,1146.9 1728.2,1155.8 1730,1149.3 1731.8,1158.2 1733.3,1148.1 1735.5,1156.2 1737.3,1148.2 1739.1,1156.2 1740.9,1151.3 1742.7,1155.5 1743.6,1150.8 1744.5,1157.6 1746.4,1151.2 1748.2,1159.5 1750,1151.8 1751.8,1157.8 1753.9,1152.5 1755.5,1158.2 1757.3,1153.7 1759.1,1160.7 1760.9,1152.9 1762.7,1157.3 1764.2,1151.9 1766.4,1157.1 1768.2,1151.3 1770,1159.1 1771.8,1151.4 1773.6,1158.6 1774.4,1152.6 1775.5,1157.2 1777.3,1151.9 1779.6,1158.9 1780.9,1150.2 1782.7,1160.1"/>
</g>
</g>
<g id="ylabels">
<text class="tk" transform="translate(0,1187.9) scale(1,1.045)" x="137.3 183.7 208.5" y="0">0.0</text>
<text class="tk" transform="translate(0,964.5) scale(1,1.045)" x="137.3 183.7 208.5" y="0">0.2</text>
<text class="tk" transform="translate(0,741.1) scale(1,1.045)" x="137.3 183.7 208.8" y="0">0.4</text>
<text class="tk" transform="translate(0,517.7) scale(1,1.045)" x="137.3 183.7 208.3" y="0">0.6</text>
<text class="tk" transform="translate(0,292.5) scale(1,1.045)" x="137.3 183.7 208.5" y="0">0.8</text>
<text class="tk" transform="translate(0,70.9) scale(1,1.045)" x="139.7 183.7 208.5" y="0">1.0</text>
</g>
<g id="xlabels">
<text class="tk" transform="translate(0,1285.4) scale(1,1.045)" x="207.2 252.9 301.9 349.4" y="0">1400</text>
<text class="tk" transform="translate(0,1285.4) scale(1,1.045)" x="443.2 488.9 538 585.4" y="0">1450</text>
<text class="tk" transform="translate(0,1285.4) scale(1,1.045)" x="679.2 724.7 773.9 821.4" y="0">1500</text>
<text class="tk" transform="translate(0,1285.4) scale(1,1.045)" x="915.2 960.7 1010 1057.4" y="0">1550</text>
<text class="tk" transform="translate(0,1285.4) scale(1,1.045)" x="1151.2 1196.4 1245.9 1293.4" y="0">1600</text>
<text class="tk" transform="translate(0,1285.4) scale(1,1.045)" x="1387.2 1432.4 1482 1529.4" y="0">1650</text>
<text class="tk" transform="translate(0,1285.4) scale(1,1.045)" x="1623.2 1668.6 1717.9 1765.4" y="0">1700</text>
<text class="tk" transform="translate(0,1285.4) scale(1,1.045)" x="1859.2 1904.6 1954 2001.4" y="0">1750</text>
</g>
<text class="xt" transform="translate(0,1377.6) scale(1,1.02)" x="773.8 859.4 913.1 959 1011 1031.9 1083.8 1134.8 1188.1 1214 1255.1 1289.1 1320.4 1373.3 1452.7" y="0">Wavelength (nm)</text>
<text class="yt" transform="translate(71,1038.3) rotate(-90) scale(1,1.03)" x="0" y="0">Normalized intensity (a.u)</text>
<g id="legend">
<rect x="1271.8" y="79.1" width="215.7" height="7" fill="#000000"/>
<text class="lg" transform="translate(0,107.8) scale(1,1.035)" x="1508.7 1561.4 1586.4 1626.2 1664.9 1741.6 1794.2 1814.6" y="0">0.5 mol%</text>
<rect x="1271.8" y="170.6" width="215.7" height="7" fill="#ff0000"/>
<text class="lg" transform="translate(0,198.9) scale(1,1.035)" x="1508.1 1547.9 1586.7 1663.9 1715.7 1736" y="0">2 mol%</text>
<rect x="1271.8" y="262" width="215.7" height="7" fill="#008000"/>
<text class="lg" transform="translate(0,290.1) scale(1,1.035)" x="1509.2 1549 1586.7 1663.9 1715.7 1736" y="0">5 mol%</text>
<rect x="1271.8" y="353.5" width="215.7" height="7" fill="#800080"/>
<text class="lg" transform="translate(0,381.3) scale(1,1.035)" x="1511.8 1560.6 1600.4 1639.1 1714.8 1768 1788.7" y="0">10 mol%</text>
<rect x="1271.8" y="444.9" width="215.7" height="7" fill="#0000ff"/>
<text class="lg" transform="translate(0,472.4) scale(1,1.035)" x="1511.8 1560.6 1611.6 1638.8 1678.5 1715.7 1793.1 1845 1865.8" y="0">14.3 mol%</text>
</g>
</svg>
</body>
</html>
